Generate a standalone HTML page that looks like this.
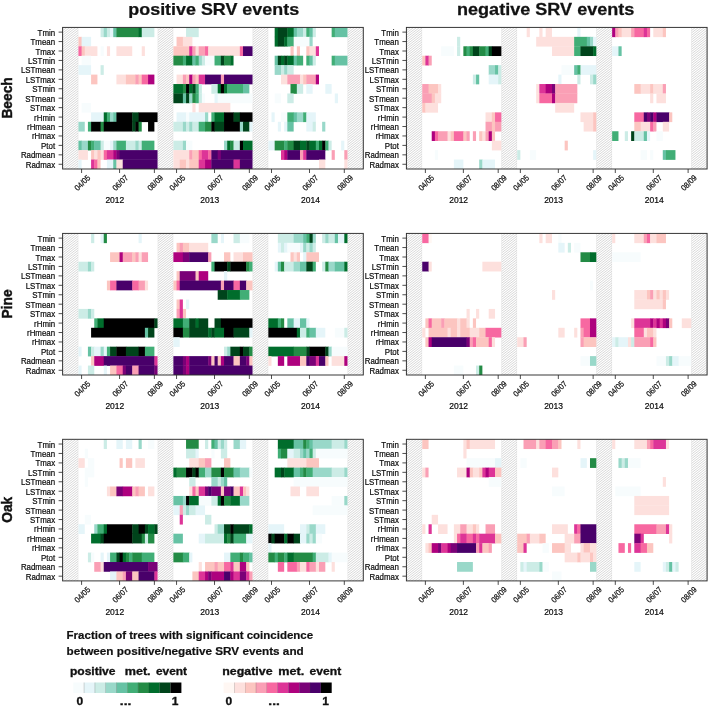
<!DOCTYPE html>
<html><head><meta charset="utf-8"><title>SRV events</title>
<style>html,body{margin:0;padding:0;background:#fff}svg{display:block}text{filter:grayscale(1)}text{font-family:"Liberation Sans",sans-serif;fill:#0a0a0a}.rl,.tl,.yl{stroke:#0a0a0a;stroke-width:0.2px}.rl{font-size:8.4px}.tl{font-size:8.2px}.yl{font-size:8.5px}.ti{font-size:16px;font-weight:bold;fill:#111;stroke:#111;stroke-width:0.25px}.sp{font-size:15px;font-weight:bold;fill:#111;stroke:#111;stroke-width:0.45px}.lg{font-size:11.4px;font-weight:bold;fill:#111;stroke:#111;stroke-width:0.2px}.lh{font-size:10px;font-weight:bold;fill:#111;stroke:#111;stroke-width:0.3px}.ln{font-size:10px;font-weight:bold;fill:#111;stroke:#111;stroke-width:0.3px}</style></head><body>
<svg width="708" height="708" viewBox="0 0 708 708">
<defs><clipPath id="hc"><rect x="0" y="0" width="15.83" height="141.6"/></clipPath><g id="h" clip-path="url(#hc)"><path d="M0 1L15.83 -11.31M0 3.33L15.83 -8.98M0 5.67L15.83 -6.64M0 8L15.83 -4.31M0 10.33L15.83 -1.98M0 12.67L15.83 0.36M0 15L15.83 2.69M0 17.33L15.83 5.02M0 19.67L15.83 7.36M0 22L15.83 9.69M0 24.33L15.83 12.02M0 26.67L15.83 14.36M0 29L15.83 16.69M0 31.33L15.83 19.02M0 33.67L15.83 21.36M0 36L15.83 23.69M0 38.33L15.83 26.02M0 40.67L15.83 28.36M0 43L15.83 30.69M0 45.33L15.83 33.02M0 47.67L15.83 35.36M0 50L15.83 37.69M0 52.33L15.83 40.02M0 54.67L15.83 42.36M0 57L15.83 44.69M0 59.33L15.83 47.02M0 61.67L15.83 49.36M0 64L15.83 51.69M0 66.33L15.83 54.02M0 68.67L15.83 56.36M0 71L15.83 58.69M0 73.33L15.83 61.02M0 75.67L15.83 63.36M0 78L15.83 65.69M0 80.33L15.83 68.02M0 82.67L15.83 70.36M0 85L15.83 72.69M0 87.33L15.83 75.02M0 89.67L15.83 77.36M0 92L15.83 79.69M0 94.33L15.83 82.02M0 96.67L15.83 84.36M0 99L15.83 86.69M0 101.33L15.83 89.02M0 103.67L15.83 91.36M0 106L15.83 93.69M0 108.33L15.83 96.02M0 110.67L15.83 98.36M0 113L15.83 100.69M0 115.33L15.83 103.02M0 117.66L15.83 105.36M0 120L15.83 107.69M0 122.33L15.83 110.02M0 124.66L15.83 112.36M0 127L15.83 114.69M0 129.33L15.83 117.02M0 131.66L15.83 119.36M0 134L15.83 121.69M0 136.33L15.83 124.02M0 138.66L15.83 126.35M0 141L15.83 128.69M0 143.33L15.83 131.02M0 145.66L15.83 133.35M0 148L15.83 135.69M0 150.33L15.83 138.02M0 152.66L15.83 140.35M0 155L15.83 142.69M0 157.33L15.83 145.02" stroke="#b8b8b8" stroke-width="0.55" fill="none"/><path d="M0.2 0V141.6M15.63 0V141.6" stroke="#d8d8d8" stroke-width="0.5" fill="none"/></g></defs>
<rect width="708" height="708" fill="#fff"/>
<text transform="translate(213.7 14.8) scale(1.12 1)" text-anchor="middle" class="ti">positive SRV events</text>
<text transform="translate(545.7 14.8) scale(1.13 1)" text-anchor="middle" class="ti">negative SRV events</text>
<text transform="translate(12.2 97.9) rotate(-90) scale(0.92 1)" text-anchor="middle" class="sp">Beech</text>
<use href="#h" x="62.6" y="27.4"/>
<use href="#h" x="157.56" y="27.4"/>
<use href="#h" x="252.52" y="27.4"/>
<use href="#h" x="347.47" y="27.4"/>
<rect x="100.58" y="27.4" width="3.57" height="9.74" fill="#ccece6"/>
<rect x="103.75" y="27.4" width="3.57" height="9.74" fill="#99d8c9"/>
<rect x="106.91" y="27.4" width="3.57" height="9.74" fill="#ccece6"/>
<rect x="110.08" y="27.4" width="3.57" height="9.74" fill="#e5f5f9"/>
<rect x="113.24" y="27.4" width="3.57" height="9.74" fill="#66c2a4"/>
<rect x="116.41" y="27.4" width="22.56" height="9.74" fill="#238b45"/>
<rect x="138.57" y="27.4" width="3.57" height="9.74" fill="#006d2c"/>
<rect x="141.73" y="27.4" width="12.66" height="9.74" fill="#ccece6"/>
<rect x="186.05" y="27.4" width="12.66" height="9.74" fill="#ccece6"/>
<rect x="274.67" y="27.4" width="3.57" height="9.74" fill="#006d2c"/>
<rect x="277.84" y="27.4" width="9.9" height="9.74" fill="#00441b"/>
<rect x="287.33" y="27.4" width="6.73" height="9.74" fill="#006d2c"/>
<rect x="293.66" y="27.4" width="3.57" height="9.74" fill="#66c2a4"/>
<rect x="296.83" y="27.4" width="6.73" height="9.74" fill="#99d8c9"/>
<rect x="303.16" y="27.4" width="3.57" height="9.74" fill="#ccece6"/>
<rect x="306.33" y="27.4" width="3.57" height="9.74" fill="#41ae76"/>
<rect x="309.49" y="27.4" width="3.57" height="9.74" fill="#66c2a4"/>
<rect x="312.66" y="27.4" width="3.17" height="9.74" fill="#ccece6"/>
<rect x="331.65" y="27.4" width="3.57" height="9.74" fill="#41ae76"/>
<rect x="334.81" y="27.4" width="12.66" height="9.74" fill="#66c2a4"/>
<rect x="78.43" y="36.84" width="3.57" height="9.74" fill="#fcc5c0"/>
<rect x="81.59" y="36.84" width="9.5" height="9.74" fill="#e5f5f9"/>
<rect x="176.55" y="36.84" width="6.73" height="9.74" fill="#fcc5c0"/>
<rect x="182.88" y="36.84" width="9.5" height="9.74" fill="#fde0dd"/>
<rect x="274.67" y="36.84" width="3.57" height="9.74" fill="#006d2c"/>
<rect x="277.84" y="36.84" width="6.73" height="9.74" fill="#00441b"/>
<rect x="284.17" y="36.84" width="3.57" height="9.74" fill="#006d2c"/>
<rect x="287.33" y="36.84" width="6.73" height="9.74" fill="#41ae76"/>
<rect x="293.66" y="36.84" width="16.23" height="9.74" fill="#f7fcfd"/>
<rect x="309.49" y="36.84" width="3.17" height="9.74" fill="#99d8c9"/>
<rect x="78.43" y="46.28" width="3.57" height="9.74" fill="#f768a1"/>
<rect x="81.59" y="46.28" width="3.57" height="9.74" fill="#fcc5c0"/>
<rect x="84.76" y="46.28" width="12.66" height="9.74" fill="#fde0dd"/>
<rect x="100.58" y="46.28" width="3.17" height="9.74" fill="#f7fcfd"/>
<rect x="106.91" y="46.28" width="3.17" height="9.74" fill="#fde0dd"/>
<rect x="116.41" y="46.28" width="15.83" height="9.74" fill="#fde0dd"/>
<rect x="141.73" y="46.28" width="3.17" height="9.74" fill="#fde0dd"/>
<rect x="173.38" y="46.28" width="16.23" height="9.74" fill="#fcc5c0"/>
<rect x="189.21" y="46.28" width="3.57" height="9.74" fill="#dd3497"/>
<rect x="192.38" y="46.28" width="3.57" height="9.74" fill="#fa9fb5"/>
<rect x="195.54" y="46.28" width="3.57" height="9.74" fill="#fde0dd"/>
<rect x="198.71" y="46.28" width="6.73" height="9.74" fill="#fa9fb5"/>
<rect x="205.04" y="46.28" width="3.57" height="9.74" fill="#f768a1"/>
<rect x="208.2" y="46.28" width="32.05" height="9.74" fill="#fde0dd"/>
<rect x="239.85" y="46.28" width="3.57" height="9.74" fill="#f768a1"/>
<rect x="243.02" y="46.28" width="9.5" height="9.74" fill="#49006a"/>
<rect x="290.5" y="46.28" width="3.17" height="9.74" fill="#fcc5c0"/>
<rect x="296.83" y="46.28" width="3.17" height="9.74" fill="#fcc5c0"/>
<rect x="306.33" y="46.28" width="3.57" height="9.74" fill="#fcc5c0"/>
<rect x="309.49" y="46.28" width="6.73" height="9.74" fill="#fde0dd"/>
<rect x="315.82" y="46.28" width="3.17" height="9.74" fill="#dd3497"/>
<rect x="81.59" y="55.72" width="9.5" height="9.74" fill="#f7fcfd"/>
<rect x="173.38" y="55.72" width="9.9" height="9.74" fill="#238b45"/>
<rect x="182.88" y="55.72" width="3.57" height="9.74" fill="#41ae76"/>
<rect x="186.05" y="55.72" width="6.73" height="9.74" fill="#006d2c"/>
<rect x="192.38" y="55.72" width="3.57" height="9.74" fill="#66c2a4"/>
<rect x="195.54" y="55.72" width="3.57" height="9.74" fill="#41ae76"/>
<rect x="198.71" y="55.72" width="3.57" height="9.74" fill="#99d8c9"/>
<rect x="201.87" y="55.72" width="3.57" height="9.74" fill="#ccece6"/>
<rect x="205.04" y="55.72" width="9.9" height="9.74" fill="#f7fcfd"/>
<rect x="214.53" y="55.72" width="6.73" height="9.74" fill="#41ae76"/>
<rect x="220.86" y="55.72" width="3.57" height="9.74" fill="#00441b"/>
<rect x="224.03" y="55.72" width="6.73" height="9.74" fill="#238b45"/>
<rect x="230.36" y="55.72" width="3.17" height="9.74" fill="#006d2c"/>
<rect x="274.67" y="55.72" width="3.57" height="9.74" fill="#66c2a4"/>
<rect x="277.84" y="55.72" width="3.57" height="9.74" fill="#00441b"/>
<rect x="281" y="55.72" width="3.57" height="9.74" fill="#006d2c"/>
<rect x="284.17" y="55.72" width="3.57" height="9.74" fill="#00441b"/>
<rect x="287.33" y="55.72" width="6.73" height="9.74" fill="#006d2c"/>
<rect x="293.66" y="55.72" width="3.57" height="9.74" fill="#66c2a4"/>
<rect x="296.83" y="55.72" width="6.33" height="9.74" fill="#41ae76"/>
<rect x="306.33" y="55.72" width="3.57" height="9.74" fill="#41ae76"/>
<rect x="309.49" y="55.72" width="3.57" height="9.74" fill="#66c2a4"/>
<rect x="312.66" y="55.72" width="3.17" height="9.74" fill="#ccece6"/>
<rect x="331.65" y="55.72" width="3.57" height="9.74" fill="#41ae76"/>
<rect x="334.81" y="55.72" width="12.66" height="9.74" fill="#66c2a4"/>
<rect x="78.43" y="65.16" width="12.66" height="9.74" fill="#e5f5f9"/>
<rect x="100.58" y="65.16" width="3.17" height="9.74" fill="#ccece6"/>
<rect x="274.67" y="65.16" width="6.73" height="9.74" fill="#99d8c9"/>
<rect x="281" y="65.16" width="3.57" height="9.74" fill="#ccece6"/>
<rect x="284.17" y="65.16" width="3.57" height="9.74" fill="#99d8c9"/>
<rect x="287.33" y="65.16" width="6.33" height="9.74" fill="#ccece6"/>
<rect x="91.09" y="74.6" width="6.33" height="9.74" fill="#fcc5c0"/>
<rect x="116.41" y="74.6" width="9.9" height="9.74" fill="#fde0dd"/>
<rect x="125.91" y="74.6" width="9.9" height="9.74" fill="#fcc5c0"/>
<rect x="135.4" y="74.6" width="3.57" height="9.74" fill="#fa9fb5"/>
<rect x="138.57" y="74.6" width="3.57" height="9.74" fill="#fcc5c0"/>
<rect x="141.73" y="74.6" width="6.73" height="9.74" fill="#f768a1"/>
<rect x="148.06" y="74.6" width="6.33" height="9.74" fill="#ae017e"/>
<rect x="176.55" y="74.6" width="6.73" height="9.74" fill="#fde0dd"/>
<rect x="182.88" y="74.6" width="3.57" height="9.74" fill="#fa9fb5"/>
<rect x="186.05" y="74.6" width="3.57" height="9.74" fill="#fcc5c0"/>
<rect x="189.21" y="74.6" width="3.57" height="9.74" fill="#ae017e"/>
<rect x="192.38" y="74.6" width="3.57" height="9.74" fill="#fa9fb5"/>
<rect x="195.54" y="74.6" width="3.57" height="9.74" fill="#fcc5c0"/>
<rect x="198.71" y="74.6" width="6.73" height="9.74" fill="#dd3497"/>
<rect x="205.04" y="74.6" width="16.23" height="9.74" fill="#49006a"/>
<rect x="220.86" y="74.6" width="3.57" height="9.74" fill="#fa9fb5"/>
<rect x="224.03" y="74.6" width="28.49" height="9.74" fill="#49006a"/>
<rect x="281" y="74.6" width="6.73" height="9.74" fill="#fde0dd"/>
<rect x="287.33" y="74.6" width="13.06" height="9.74" fill="#fa9fb5"/>
<rect x="299.99" y="74.6" width="3.57" height="9.74" fill="#fde0dd"/>
<rect x="303.16" y="74.6" width="3.57" height="9.74" fill="#fcc5c0"/>
<rect x="306.33" y="74.6" width="9.9" height="9.74" fill="#fa9fb5"/>
<rect x="315.82" y="74.6" width="3.17" height="9.74" fill="#ae017e"/>
<rect x="173.38" y="84.04" width="9.9" height="9.74" fill="#006d2c"/>
<rect x="182.88" y="84.04" width="3.57" height="9.74" fill="#238b45"/>
<rect x="186.05" y="84.04" width="3.57" height="9.74" fill="#000000"/>
<rect x="189.21" y="84.04" width="3.57" height="9.74" fill="#006d2c"/>
<rect x="192.38" y="84.04" width="3.57" height="9.74" fill="#00441b"/>
<rect x="195.54" y="84.04" width="3.57" height="9.74" fill="#41ae76"/>
<rect x="198.71" y="84.04" width="3.17" height="9.74" fill="#ccece6"/>
<rect x="211.37" y="84.04" width="6.73" height="9.74" fill="#ccece6"/>
<rect x="217.7" y="84.04" width="3.57" height="9.74" fill="#006d2c"/>
<rect x="220.86" y="84.04" width="3.57" height="9.74" fill="#000000"/>
<rect x="224.03" y="84.04" width="3.57" height="9.74" fill="#006d2c"/>
<rect x="227.19" y="84.04" width="16.23" height="9.74" fill="#41ae76"/>
<rect x="243.02" y="84.04" width="6.33" height="9.74" fill="#66c2a4"/>
<rect x="290.5" y="84.04" width="6.73" height="9.74" fill="#238b45"/>
<rect x="296.83" y="84.04" width="6.33" height="9.74" fill="#ccece6"/>
<rect x="306.33" y="84.04" width="6.33" height="9.74" fill="#e5f5f9"/>
<rect x="325.32" y="84.04" width="6.33" height="9.74" fill="#e5f5f9"/>
<rect x="173.38" y="93.48" width="9.9" height="9.74" fill="#00441b"/>
<rect x="182.88" y="93.48" width="3.57" height="9.74" fill="#66c2a4"/>
<rect x="186.05" y="93.48" width="3.57" height="9.74" fill="#00441b"/>
<rect x="189.21" y="93.48" width="3.57" height="9.74" fill="#99d8c9"/>
<rect x="192.38" y="93.48" width="3.57" height="9.74" fill="#238b45"/>
<rect x="195.54" y="93.48" width="3.57" height="9.74" fill="#41ae76"/>
<rect x="198.71" y="93.48" width="3.57" height="9.74" fill="#ccece6"/>
<rect x="201.87" y="93.48" width="3.17" height="9.74" fill="#f7fcfd"/>
<rect x="214.53" y="93.48" width="3.57" height="9.74" fill="#e5f5f9"/>
<rect x="217.7" y="93.48" width="34.82" height="9.74" fill="#f7fcfd"/>
<rect x="274.67" y="93.48" width="6.33" height="9.74" fill="#f7fcfd"/>
<rect x="287.33" y="93.48" width="6.33" height="9.74" fill="#ccece6"/>
<rect x="334.81" y="93.48" width="3.17" height="9.74" fill="#e5f5f9"/>
<rect x="81.59" y="102.92" width="9.5" height="9.74" fill="#f7fcfd"/>
<rect x="192.38" y="102.92" width="3.17" height="9.74" fill="#fde0dd"/>
<rect x="198.71" y="102.92" width="31.65" height="9.74" fill="#fde0dd"/>
<rect x="91.09" y="112.36" width="13.06" height="9.74" fill="#e5f5f9"/>
<rect x="103.75" y="112.36" width="3.57" height="9.74" fill="#006d2c"/>
<rect x="106.91" y="112.36" width="3.57" height="9.74" fill="#41ae76"/>
<rect x="110.08" y="112.36" width="3.57" height="9.74" fill="#99d8c9"/>
<rect x="113.24" y="112.36" width="3.57" height="9.74" fill="#66c2a4"/>
<rect x="116.41" y="112.36" width="16.23" height="9.74" fill="#000000"/>
<rect x="132.24" y="112.36" width="6.73" height="9.74" fill="#00441b"/>
<rect x="138.57" y="112.36" width="18.99" height="9.74" fill="#000000"/>
<rect x="176.55" y="112.36" width="9.9" height="9.74" fill="#e5f5f9"/>
<rect x="186.05" y="112.36" width="3.57" height="9.74" fill="#f7fcfd"/>
<rect x="189.21" y="112.36" width="16.23" height="9.74" fill="#e5f5f9"/>
<rect x="205.04" y="112.36" width="3.17" height="9.74" fill="#99d8c9"/>
<rect x="211.37" y="112.36" width="3.57" height="9.74" fill="#41ae76"/>
<rect x="214.53" y="112.36" width="9.9" height="9.74" fill="#006d2c"/>
<rect x="224.03" y="112.36" width="9.9" height="9.74" fill="#000000"/>
<rect x="233.52" y="112.36" width="6.73" height="9.74" fill="#00441b"/>
<rect x="239.85" y="112.36" width="12.66" height="9.74" fill="#000000"/>
<rect x="271.51" y="112.36" width="3.17" height="9.74" fill="#e5f5f9"/>
<rect x="281" y="112.36" width="6.73" height="9.74" fill="#f7fcfd"/>
<rect x="287.33" y="112.36" width="6.73" height="9.74" fill="#41ae76"/>
<rect x="293.66" y="112.36" width="3.57" height="9.74" fill="#66c2a4"/>
<rect x="296.83" y="112.36" width="6.73" height="9.74" fill="#99d8c9"/>
<rect x="303.16" y="112.36" width="3.57" height="9.74" fill="#41ae76"/>
<rect x="306.33" y="112.36" width="9.5" height="9.74" fill="#e5f5f9"/>
<rect x="78.43" y="121.8" width="6.33" height="9.74" fill="#99d8c9"/>
<rect x="87.92" y="121.8" width="3.57" height="9.74" fill="#41ae76"/>
<rect x="91.09" y="121.8" width="9.9" height="9.74" fill="#000000"/>
<rect x="100.58" y="121.8" width="3.57" height="9.74" fill="#238b45"/>
<rect x="103.75" y="121.8" width="28.89" height="9.74" fill="#000000"/>
<rect x="132.24" y="121.8" width="3.57" height="9.74" fill="#00441b"/>
<rect x="135.4" y="121.8" width="3.57" height="9.74" fill="#000000"/>
<rect x="138.57" y="121.8" width="3.17" height="9.74" fill="#238b45"/>
<rect x="148.06" y="121.8" width="6.33" height="9.74" fill="#000000"/>
<rect x="173.38" y="121.8" width="9.9" height="9.74" fill="#ccece6"/>
<rect x="182.88" y="121.8" width="3.57" height="9.74" fill="#99d8c9"/>
<rect x="186.05" y="121.8" width="3.57" height="9.74" fill="#ccece6"/>
<rect x="189.21" y="121.8" width="3.57" height="9.74" fill="#99d8c9"/>
<rect x="192.38" y="121.8" width="6.73" height="9.74" fill="#ccece6"/>
<rect x="198.71" y="121.8" width="6.73" height="9.74" fill="#41ae76"/>
<rect x="205.04" y="121.8" width="6.73" height="9.74" fill="#238b45"/>
<rect x="211.37" y="121.8" width="3.57" height="9.74" fill="#000000"/>
<rect x="214.53" y="121.8" width="9.9" height="9.74" fill="#00441b"/>
<rect x="224.03" y="121.8" width="16.23" height="9.74" fill="#000000"/>
<rect x="239.85" y="121.8" width="3.57" height="9.74" fill="#99d8c9"/>
<rect x="243.02" y="121.8" width="6.73" height="9.74" fill="#00441b"/>
<rect x="249.35" y="121.8" width="3.17" height="9.74" fill="#e5f5f9"/>
<rect x="277.84" y="121.8" width="3.17" height="9.74" fill="#e5f5f9"/>
<rect x="284.17" y="121.8" width="3.57" height="9.74" fill="#e5f5f9"/>
<rect x="287.33" y="121.8" width="6.33" height="9.74" fill="#66c2a4"/>
<rect x="306.33" y="121.8" width="6.73" height="9.74" fill="#e5f5f9"/>
<rect x="312.66" y="121.8" width="3.17" height="9.74" fill="#ccece6"/>
<rect x="322.15" y="121.8" width="3.17" height="9.74" fill="#99d8c9"/>
<rect x="78.43" y="140.68" width="3.57" height="9.74" fill="#66c2a4"/>
<rect x="81.59" y="140.68" width="6.73" height="9.74" fill="#99d8c9"/>
<rect x="87.92" y="140.68" width="3.57" height="9.74" fill="#238b45"/>
<rect x="91.09" y="140.68" width="3.57" height="9.74" fill="#41ae76"/>
<rect x="94.25" y="140.68" width="6.73" height="9.74" fill="#66c2a4"/>
<rect x="100.58" y="140.68" width="3.57" height="9.74" fill="#ccece6"/>
<rect x="103.75" y="140.68" width="6.73" height="9.74" fill="#f7fcfd"/>
<rect x="110.08" y="140.68" width="3.57" height="9.74" fill="#e5f5f9"/>
<rect x="113.24" y="140.68" width="3.57" height="9.74" fill="#99d8c9"/>
<rect x="116.41" y="140.68" width="9.9" height="9.74" fill="#41ae76"/>
<rect x="125.91" y="140.68" width="9.9" height="9.74" fill="#ccece6"/>
<rect x="135.4" y="140.68" width="3.57" height="9.74" fill="#99d8c9"/>
<rect x="138.57" y="140.68" width="3.57" height="9.74" fill="#ccece6"/>
<rect x="141.73" y="140.68" width="12.66" height="9.74" fill="#41ae76"/>
<rect x="173.38" y="140.68" width="9.9" height="9.74" fill="#ccece6"/>
<rect x="182.88" y="140.68" width="3.57" height="9.74" fill="#99d8c9"/>
<rect x="186.05" y="140.68" width="6.33" height="9.74" fill="#f7fcfd"/>
<rect x="224.03" y="140.68" width="3.57" height="9.74" fill="#99d8c9"/>
<rect x="227.19" y="140.68" width="3.57" height="9.74" fill="#006d2c"/>
<rect x="230.36" y="140.68" width="3.57" height="9.74" fill="#238b45"/>
<rect x="233.52" y="140.68" width="6.73" height="9.74" fill="#ccece6"/>
<rect x="239.85" y="140.68" width="3.57" height="9.74" fill="#000000"/>
<rect x="243.02" y="140.68" width="9.5" height="9.74" fill="#006d2c"/>
<rect x="268.34" y="140.68" width="6.73" height="9.74" fill="#e5f5f9"/>
<rect x="274.67" y="140.68" width="9.9" height="9.74" fill="#238b45"/>
<rect x="284.17" y="140.68" width="3.57" height="9.74" fill="#41ae76"/>
<rect x="287.33" y="140.68" width="6.73" height="9.74" fill="#238b45"/>
<rect x="293.66" y="140.68" width="6.73" height="9.74" fill="#00441b"/>
<rect x="299.99" y="140.68" width="6.73" height="9.74" fill="#006d2c"/>
<rect x="306.33" y="140.68" width="3.57" height="9.74" fill="#00441b"/>
<rect x="309.49" y="140.68" width="6.73" height="9.74" fill="#006d2c"/>
<rect x="315.82" y="140.68" width="3.57" height="9.74" fill="#41ae76"/>
<rect x="318.99" y="140.68" width="3.57" height="9.74" fill="#006d2c"/>
<rect x="322.15" y="140.68" width="3.57" height="9.74" fill="#000000"/>
<rect x="325.32" y="140.68" width="3.57" height="9.74" fill="#41ae76"/>
<rect x="328.48" y="140.68" width="3.17" height="9.74" fill="#ccece6"/>
<rect x="341.14" y="140.68" width="3.17" height="9.74" fill="#e5f5f9"/>
<rect x="78.43" y="150.12" width="9.5" height="9.74" fill="#fde0dd"/>
<rect x="91.09" y="150.12" width="3.57" height="9.74" fill="#fcc5c0"/>
<rect x="94.25" y="150.12" width="3.57" height="9.74" fill="#fde0dd"/>
<rect x="97.42" y="150.12" width="3.57" height="9.74" fill="#fcc5c0"/>
<rect x="100.58" y="150.12" width="3.57" height="9.74" fill="#fde0dd"/>
<rect x="103.75" y="150.12" width="3.57" height="9.74" fill="#f768a1"/>
<rect x="106.91" y="150.12" width="6.73" height="9.74" fill="#dd3497"/>
<rect x="113.24" y="150.12" width="3.57" height="9.74" fill="#ae017e"/>
<rect x="116.41" y="150.12" width="3.57" height="9.74" fill="#7a0177"/>
<rect x="119.57" y="150.12" width="37.98" height="9.74" fill="#49006a"/>
<rect x="173.38" y="150.12" width="16.23" height="9.74" fill="#fde0dd"/>
<rect x="189.21" y="150.12" width="3.57" height="9.74" fill="#fa9fb5"/>
<rect x="192.38" y="150.12" width="6.73" height="9.74" fill="#fcc5c0"/>
<rect x="198.71" y="150.12" width="3.57" height="9.74" fill="#f768a1"/>
<rect x="201.87" y="150.12" width="6.73" height="9.74" fill="#dd3497"/>
<rect x="208.2" y="150.12" width="3.57" height="9.74" fill="#f768a1"/>
<rect x="211.37" y="150.12" width="6.73" height="9.74" fill="#49006a"/>
<rect x="217.7" y="150.12" width="3.57" height="9.74" fill="#7a0177"/>
<rect x="220.86" y="150.12" width="31.65" height="9.74" fill="#49006a"/>
<rect x="281" y="150.12" width="3.57" height="9.74" fill="#dd3497"/>
<rect x="284.17" y="150.12" width="3.57" height="9.74" fill="#ae017e"/>
<rect x="287.33" y="150.12" width="13.06" height="9.74" fill="#49006a"/>
<rect x="299.99" y="150.12" width="3.57" height="9.74" fill="#fa9fb5"/>
<rect x="303.16" y="150.12" width="3.57" height="9.74" fill="#dd3497"/>
<rect x="306.33" y="150.12" width="18.99" height="9.74" fill="#49006a"/>
<rect x="331.65" y="150.12" width="3.17" height="9.74" fill="#fa9fb5"/>
<rect x="344.31" y="150.12" width="3.17" height="9.74" fill="#fa9fb5"/>
<rect x="78.43" y="159.56" width="3.17" height="9.44" fill="#e5f5f9"/>
<rect x="91.09" y="159.56" width="3.57" height="9.44" fill="#dd3497"/>
<rect x="94.25" y="159.56" width="3.57" height="9.44" fill="#f768a1"/>
<rect x="97.42" y="159.56" width="3.17" height="9.44" fill="#fcc5c0"/>
<rect x="106.91" y="159.56" width="6.73" height="9.44" fill="#e5f5f9"/>
<rect x="113.24" y="159.56" width="3.57" height="9.44" fill="#66c2a4"/>
<rect x="116.41" y="159.56" width="6.73" height="9.44" fill="#fde0dd"/>
<rect x="122.74" y="159.56" width="34.82" height="9.44" fill="#49006a"/>
<rect x="173.38" y="159.56" width="6.73" height="9.44" fill="#fde0dd"/>
<rect x="179.71" y="159.56" width="6.73" height="9.44" fill="#fcc5c0"/>
<rect x="186.05" y="159.56" width="3.57" height="9.44" fill="#fde0dd"/>
<rect x="189.21" y="159.56" width="9.9" height="9.44" fill="#fcc5c0"/>
<rect x="198.71" y="159.56" width="6.73" height="9.44" fill="#dd3497"/>
<rect x="205.04" y="159.56" width="6.73" height="9.44" fill="#ae017e"/>
<rect x="211.37" y="159.56" width="22.56" height="9.44" fill="#49006a"/>
<rect x="233.52" y="159.56" width="6.73" height="9.44" fill="#dd3497"/>
<rect x="239.85" y="159.56" width="12.66" height="9.44" fill="#49006a"/>
<rect x="318.99" y="159.56" width="6.33" height="9.44" fill="#fde0dd"/>
<rect x="344.31" y="159.56" width="3.17" height="9.44" fill="#fde0dd"/>
<rect x="62.6" y="27.4" width="300.7" height="141.6" fill="none" stroke="#2e2e2e" stroke-width="0.95"/>
<path d="M58.6 32.12H62.6" stroke="#222" stroke-width="0.8"/>
<text transform="translate(55.1 35.62) scale(0.94 1)" text-anchor="end" class="rl">Tmin</text>
<path d="M58.6 41.56H62.6" stroke="#222" stroke-width="0.8"/>
<text transform="translate(55.1 45.06) scale(0.94 1)" text-anchor="end" class="rl">Tmean</text>
<path d="M58.6 51H62.6" stroke="#222" stroke-width="0.8"/>
<text transform="translate(55.1 54.5) scale(0.94 1)" text-anchor="end" class="rl">Tmax</text>
<path d="M58.6 60.44H62.6" stroke="#222" stroke-width="0.8"/>
<text transform="translate(55.1 63.94) scale(0.94 1)" text-anchor="end" class="rl">LSTmin</text>
<path d="M58.6 69.88H62.6" stroke="#222" stroke-width="0.8"/>
<text transform="translate(55.1 73.38) scale(0.94 1)" text-anchor="end" class="rl">LSTmean</text>
<path d="M58.6 79.32H62.6" stroke="#222" stroke-width="0.8"/>
<text transform="translate(55.1 82.82) scale(0.94 1)" text-anchor="end" class="rl">LSTmax</text>
<path d="M58.6 88.76H62.6" stroke="#222" stroke-width="0.8"/>
<text transform="translate(55.1 92.26) scale(0.94 1)" text-anchor="end" class="rl">STmin</text>
<path d="M58.6 98.2H62.6" stroke="#222" stroke-width="0.8"/>
<text transform="translate(55.1 101.7) scale(0.94 1)" text-anchor="end" class="rl">STmean</text>
<path d="M58.6 107.64H62.6" stroke="#222" stroke-width="0.8"/>
<text transform="translate(55.1 111.14) scale(0.94 1)" text-anchor="end" class="rl">STmax</text>
<path d="M58.6 117.08H62.6" stroke="#222" stroke-width="0.8"/>
<text transform="translate(55.1 120.58) scale(0.94 1)" text-anchor="end" class="rl">rHmin</text>
<path d="M58.6 126.52H62.6" stroke="#222" stroke-width="0.8"/>
<text transform="translate(55.1 130.02) scale(0.94 1)" text-anchor="end" class="rl">rHmean</text>
<path d="M58.6 135.96H62.6" stroke="#222" stroke-width="0.8"/>
<text transform="translate(55.1 139.46) scale(0.94 1)" text-anchor="end" class="rl">rHmax</text>
<path d="M58.6 145.4H62.6" stroke="#222" stroke-width="0.8"/>
<text transform="translate(55.1 148.9) scale(0.94 1)" text-anchor="end" class="rl">Ptot</text>
<path d="M58.6 154.84H62.6" stroke="#222" stroke-width="0.8"/>
<text transform="translate(55.1 158.34) scale(0.94 1)" text-anchor="end" class="rl">Radmean</text>
<path d="M58.6 164.28H62.6" stroke="#222" stroke-width="0.8"/>
<text transform="translate(55.1 167.78) scale(0.94 1)" text-anchor="end" class="rl">Radmax</text>
<path d="M81.59 169V173" stroke="#222" stroke-width="0.8"/>
<text transform="translate(90.89 178.3) rotate(-45) scale(0.9 1)" text-anchor="end" class="tl">04/05</text>
<path d="M119.57 169V173" stroke="#222" stroke-width="0.8"/>
<text transform="translate(128.87 178.3) rotate(-45) scale(0.9 1)" text-anchor="end" class="tl">06/07</text>
<path d="M154.39 169V173" stroke="#222" stroke-width="0.8"/>
<text transform="translate(163.69 178.3) rotate(-45) scale(0.9 1)" text-anchor="end" class="tl">08/09</text>
<text transform="translate(114.83 202.7)" text-anchor="middle" class="yl">2012</text>
<path d="M176.55 169V173" stroke="#222" stroke-width="0.8"/>
<text transform="translate(185.85 178.3) rotate(-45) scale(0.9 1)" text-anchor="end" class="tl">04/05</text>
<path d="M214.53 169V173" stroke="#222" stroke-width="0.8"/>
<text transform="translate(223.83 178.3) rotate(-45) scale(0.9 1)" text-anchor="end" class="tl">06/07</text>
<path d="M249.35 169V173" stroke="#222" stroke-width="0.8"/>
<text transform="translate(258.65 178.3) rotate(-45) scale(0.9 1)" text-anchor="end" class="tl">08/09</text>
<text transform="translate(209.78 202.7)" text-anchor="middle" class="yl">2013</text>
<path d="M271.51 169V173" stroke="#222" stroke-width="0.8"/>
<text transform="translate(280.81 178.3) rotate(-45) scale(0.9 1)" text-anchor="end" class="tl">04/05</text>
<path d="M309.49 169V173" stroke="#222" stroke-width="0.8"/>
<text transform="translate(318.79 178.3) rotate(-45) scale(0.9 1)" text-anchor="end" class="tl">06/07</text>
<path d="M344.31 169V173" stroke="#222" stroke-width="0.8"/>
<text transform="translate(353.61 178.3) rotate(-45) scale(0.9 1)" text-anchor="end" class="tl">08/09</text>
<text transform="translate(310.44 202.7)" text-anchor="middle" class="yl">2014</text>
<use href="#h" x="406.4" y="27.4"/>
<use href="#h" x="501.36" y="27.4"/>
<use href="#h" x="596.32" y="27.4"/>
<use href="#h" x="691.27" y="27.4"/>
<rect x="526.68" y="27.4" width="3.17" height="9.74" fill="#fde0dd"/>
<rect x="539.34" y="27.4" width="3.17" height="9.74" fill="#fde0dd"/>
<rect x="545.67" y="27.4" width="6.33" height="9.74" fill="#fde0dd"/>
<rect x="577.32" y="27.4" width="3.17" height="9.74" fill="#e5f5f9"/>
<rect x="612.14" y="27.4" width="3.57" height="9.74" fill="#ae017e"/>
<rect x="615.31" y="27.4" width="3.57" height="9.74" fill="#fa9fb5"/>
<rect x="618.47" y="27.4" width="3.57" height="9.74" fill="#fcc5c0"/>
<rect x="621.64" y="27.4" width="9.9" height="9.74" fill="#fde0dd"/>
<rect x="631.13" y="27.4" width="3.57" height="9.74" fill="#fa9fb5"/>
<rect x="634.3" y="27.4" width="9.9" height="9.74" fill="#f768a1"/>
<rect x="643.79" y="27.4" width="3.57" height="9.74" fill="#dd3497"/>
<rect x="646.96" y="27.4" width="3.17" height="9.74" fill="#f768a1"/>
<rect x="653.29" y="27.4" width="9.9" height="9.74" fill="#fde0dd"/>
<rect x="662.79" y="27.4" width="3.17" height="9.74" fill="#fcc5c0"/>
<rect x="457.04" y="36.84" width="3.17" height="9.74" fill="#ccece6"/>
<rect x="536.18" y="36.84" width="38.38" height="9.74" fill="#fde0dd"/>
<rect x="574.16" y="36.84" width="13.06" height="9.74" fill="#41ae76"/>
<rect x="586.82" y="36.84" width="3.57" height="9.74" fill="#66c2a4"/>
<rect x="589.99" y="36.84" width="3.57" height="9.74" fill="#99d8c9"/>
<rect x="593.15" y="36.84" width="3.17" height="9.74" fill="#e5f5f9"/>
<rect x="441.22" y="46.28" width="12.66" height="9.74" fill="#f7fcfd"/>
<rect x="457.04" y="46.28" width="3.17" height="9.74" fill="#ccece6"/>
<rect x="463.37" y="46.28" width="3.57" height="9.74" fill="#238b45"/>
<rect x="466.54" y="46.28" width="3.57" height="9.74" fill="#41ae76"/>
<rect x="469.71" y="46.28" width="3.57" height="9.74" fill="#238b45"/>
<rect x="472.87" y="46.28" width="6.73" height="9.74" fill="#00441b"/>
<rect x="479.2" y="46.28" width="6.73" height="9.74" fill="#238b45"/>
<rect x="485.53" y="46.28" width="3.57" height="9.74" fill="#41ae76"/>
<rect x="488.7" y="46.28" width="3.57" height="9.74" fill="#00441b"/>
<rect x="491.86" y="46.28" width="9.5" height="9.74" fill="#000000"/>
<rect x="552" y="46.28" width="22.56" height="9.74" fill="#fde0dd"/>
<rect x="574.16" y="46.28" width="6.73" height="9.74" fill="#41ae76"/>
<rect x="580.49" y="46.28" width="13.06" height="9.74" fill="#00441b"/>
<rect x="593.15" y="46.28" width="3.17" height="9.74" fill="#006d2c"/>
<rect x="612.14" y="46.28" width="6.73" height="9.74" fill="#e5f5f9"/>
<rect x="618.47" y="46.28" width="3.17" height="9.74" fill="#66c2a4"/>
<rect x="422.23" y="55.72" width="3.57" height="9.74" fill="#fcc5c0"/>
<rect x="425.39" y="55.72" width="3.57" height="9.74" fill="#dd3497"/>
<rect x="428.56" y="55.72" width="3.17" height="9.74" fill="#fa9fb5"/>
<rect x="488.7" y="65.16" width="6.73" height="9.74" fill="#99d8c9"/>
<rect x="495.03" y="65.16" width="3.57" height="9.74" fill="#66c2a4"/>
<rect x="498.19" y="65.16" width="3.17" height="9.74" fill="#ccece6"/>
<rect x="561.5" y="65.16" width="13.06" height="9.74" fill="#f7fcfd"/>
<rect x="574.16" y="65.16" width="3.57" height="9.74" fill="#66c2a4"/>
<rect x="577.32" y="65.16" width="3.57" height="9.74" fill="#41ae76"/>
<rect x="580.49" y="65.16" width="15.83" height="9.74" fill="#e5f5f9"/>
<rect x="472.87" y="74.6" width="3.57" height="9.74" fill="#ccece6"/>
<rect x="476.04" y="74.6" width="3.17" height="9.74" fill="#66c2a4"/>
<rect x="488.7" y="74.6" width="9.9" height="9.74" fill="#e5f5f9"/>
<rect x="498.19" y="74.6" width="3.17" height="9.74" fill="#ccece6"/>
<rect x="558.33" y="74.6" width="3.17" height="9.74" fill="#e5f5f9"/>
<rect x="577.32" y="74.6" width="3.17" height="9.74" fill="#ccece6"/>
<rect x="589.99" y="74.6" width="3.57" height="9.74" fill="#ccece6"/>
<rect x="593.15" y="74.6" width="3.17" height="9.74" fill="#99d8c9"/>
<rect x="422.23" y="84.04" width="6.73" height="9.74" fill="#fa9fb5"/>
<rect x="428.56" y="84.04" width="9.9" height="9.74" fill="#fcc5c0"/>
<rect x="438.05" y="84.04" width="3.17" height="9.74" fill="#fde0dd"/>
<rect x="536.18" y="84.04" width="3.57" height="9.74" fill="#fde0dd"/>
<rect x="539.34" y="84.04" width="6.73" height="9.74" fill="#dd3497"/>
<rect x="545.67" y="84.04" width="6.73" height="9.74" fill="#ae017e"/>
<rect x="552" y="84.04" width="3.57" height="9.74" fill="#7a0177"/>
<rect x="555.17" y="84.04" width="22.16" height="9.74" fill="#fa9fb5"/>
<rect x="634.3" y="84.04" width="6.73" height="9.74" fill="#fcc5c0"/>
<rect x="640.63" y="84.04" width="9.9" height="9.74" fill="#fde0dd"/>
<rect x="650.13" y="84.04" width="3.57" height="9.74" fill="#fcc5c0"/>
<rect x="653.29" y="84.04" width="9.9" height="9.74" fill="#fde0dd"/>
<rect x="662.79" y="84.04" width="3.17" height="9.74" fill="#fa9fb5"/>
<rect x="422.23" y="93.48" width="9.9" height="9.74" fill="#fa9fb5"/>
<rect x="431.72" y="93.48" width="3.57" height="9.74" fill="#fcc5c0"/>
<rect x="434.89" y="93.48" width="6.33" height="9.74" fill="#fde0dd"/>
<rect x="536.18" y="93.48" width="3.57" height="9.74" fill="#fde0dd"/>
<rect x="539.34" y="93.48" width="13.06" height="9.74" fill="#f768a1"/>
<rect x="552" y="93.48" width="3.57" height="9.74" fill="#ae017e"/>
<rect x="555.17" y="93.48" width="22.16" height="9.74" fill="#fa9fb5"/>
<rect x="650.13" y="93.48" width="3.17" height="9.74" fill="#fde0dd"/>
<rect x="656.46" y="93.48" width="9.5" height="9.74" fill="#fde0dd"/>
<rect x="422.23" y="102.92" width="3.57" height="9.74" fill="#fcc5c0"/>
<rect x="425.39" y="102.92" width="12.66" height="9.74" fill="#fde0dd"/>
<rect x="555.17" y="102.92" width="18.99" height="9.74" fill="#fde0dd"/>
<rect x="485.53" y="112.36" width="6.73" height="9.74" fill="#fde0dd"/>
<rect x="491.86" y="112.36" width="3.57" height="9.74" fill="#fcc5c0"/>
<rect x="495.03" y="112.36" width="6.33" height="9.74" fill="#f768a1"/>
<rect x="580.49" y="112.36" width="13.06" height="9.74" fill="#fde0dd"/>
<rect x="593.15" y="112.36" width="3.17" height="9.74" fill="#fcc5c0"/>
<rect x="634.3" y="112.36" width="9.9" height="9.74" fill="#f768a1"/>
<rect x="643.79" y="112.36" width="3.57" height="9.74" fill="#49006a"/>
<rect x="646.96" y="112.36" width="3.57" height="9.74" fill="#7a0177"/>
<rect x="650.13" y="112.36" width="3.57" height="9.74" fill="#49006a"/>
<rect x="653.29" y="112.36" width="3.57" height="9.74" fill="#ae017e"/>
<rect x="656.46" y="112.36" width="13.06" height="9.74" fill="#49006a"/>
<rect x="669.12" y="112.36" width="3.17" height="9.74" fill="#fcc5c0"/>
<rect x="485.53" y="121.8" width="6.73" height="9.74" fill="#fa9fb5"/>
<rect x="491.86" y="121.8" width="3.57" height="9.74" fill="#fcc5c0"/>
<rect x="495.03" y="121.8" width="6.33" height="9.74" fill="#fa9fb5"/>
<rect x="583.65" y="121.8" width="9.9" height="9.74" fill="#fde0dd"/>
<rect x="593.15" y="121.8" width="3.17" height="9.74" fill="#fcc5c0"/>
<rect x="634.3" y="121.8" width="6.73" height="9.74" fill="#fcc5c0"/>
<rect x="640.63" y="121.8" width="9.9" height="9.74" fill="#fde0dd"/>
<rect x="650.13" y="121.8" width="3.57" height="9.74" fill="#f768a1"/>
<rect x="653.29" y="121.8" width="3.17" height="9.74" fill="#fa9fb5"/>
<rect x="662.79" y="121.8" width="6.33" height="9.74" fill="#fde0dd"/>
<rect x="431.72" y="131.24" width="3.57" height="9.74" fill="#ae017e"/>
<rect x="434.89" y="131.24" width="3.57" height="9.74" fill="#f768a1"/>
<rect x="438.05" y="131.24" width="9.9" height="9.74" fill="#fa9fb5"/>
<rect x="447.55" y="131.24" width="3.57" height="9.74" fill="#fde0dd"/>
<rect x="450.71" y="131.24" width="3.57" height="9.74" fill="#fcc5c0"/>
<rect x="453.88" y="131.24" width="9.9" height="9.74" fill="#f768a1"/>
<rect x="463.37" y="131.24" width="3.57" height="9.74" fill="#fcc5c0"/>
<rect x="466.54" y="131.24" width="3.17" height="9.74" fill="#fa9fb5"/>
<rect x="472.87" y="131.24" width="3.17" height="9.74" fill="#fa9fb5"/>
<rect x="479.2" y="131.24" width="3.57" height="9.74" fill="#fcc5c0"/>
<rect x="482.37" y="131.24" width="3.57" height="9.74" fill="#fde0dd"/>
<rect x="485.53" y="131.24" width="3.57" height="9.74" fill="#fa9fb5"/>
<rect x="488.7" y="131.24" width="3.57" height="9.74" fill="#ae017e"/>
<rect x="491.86" y="131.24" width="3.17" height="9.74" fill="#fcc5c0"/>
<rect x="612.14" y="131.24" width="6.33" height="9.74" fill="#41ae76"/>
<rect x="624.8" y="131.24" width="3.17" height="9.74" fill="#ccece6"/>
<rect x="631.13" y="131.24" width="3.57" height="9.74" fill="#00441b"/>
<rect x="634.3" y="131.24" width="9.9" height="9.74" fill="#ccece6"/>
<rect x="643.79" y="131.24" width="3.57" height="9.74" fill="#66c2a4"/>
<rect x="646.96" y="131.24" width="3.17" height="9.74" fill="#e5f5f9"/>
<rect x="656.46" y="131.24" width="6.33" height="9.74" fill="#f7fcfd"/>
<rect x="491.86" y="140.68" width="9.5" height="9.74" fill="#fde0dd"/>
<rect x="564.66" y="140.68" width="3.17" height="9.74" fill="#fcc5c0"/>
<rect x="434.89" y="150.12" width="3.17" height="9.74" fill="#f7fcfd"/>
<rect x="517.18" y="150.12" width="3.17" height="9.74" fill="#ccece6"/>
<rect x="529.85" y="150.12" width="6.33" height="9.74" fill="#f7fcfd"/>
<rect x="593.15" y="150.12" width="3.17" height="9.74" fill="#e5f5f9"/>
<rect x="640.63" y="150.12" width="6.33" height="9.74" fill="#f7fcfd"/>
<rect x="650.13" y="150.12" width="3.17" height="9.74" fill="#f7fcfd"/>
<rect x="662.79" y="150.12" width="3.57" height="9.74" fill="#66c2a4"/>
<rect x="665.95" y="150.12" width="9.5" height="9.74" fill="#41ae76"/>
<rect x="453.88" y="159.56" width="9.5" height="9.44" fill="#e5f5f9"/>
<rect x="479.2" y="159.56" width="3.57" height="9.44" fill="#99d8c9"/>
<rect x="482.37" y="159.56" width="12.66" height="9.44" fill="#e5f5f9"/>
<rect x="406.4" y="27.4" width="300.7" height="141.6" fill="none" stroke="#2e2e2e" stroke-width="0.95"/>
<path d="M402.4 32.12H406.4" stroke="#222" stroke-width="0.8"/>
<text transform="translate(398.9 35.62) scale(0.94 1)" text-anchor="end" class="rl">Tmin</text>
<path d="M402.4 41.56H406.4" stroke="#222" stroke-width="0.8"/>
<text transform="translate(398.9 45.06) scale(0.94 1)" text-anchor="end" class="rl">Tmean</text>
<path d="M402.4 51H406.4" stroke="#222" stroke-width="0.8"/>
<text transform="translate(398.9 54.5) scale(0.94 1)" text-anchor="end" class="rl">Tmax</text>
<path d="M402.4 60.44H406.4" stroke="#222" stroke-width="0.8"/>
<text transform="translate(398.9 63.94) scale(0.94 1)" text-anchor="end" class="rl">LSTmin</text>
<path d="M402.4 69.88H406.4" stroke="#222" stroke-width="0.8"/>
<text transform="translate(398.9 73.38) scale(0.94 1)" text-anchor="end" class="rl">LSTmean</text>
<path d="M402.4 79.32H406.4" stroke="#222" stroke-width="0.8"/>
<text transform="translate(398.9 82.82) scale(0.94 1)" text-anchor="end" class="rl">LSTmax</text>
<path d="M402.4 88.76H406.4" stroke="#222" stroke-width="0.8"/>
<text transform="translate(398.9 92.26) scale(0.94 1)" text-anchor="end" class="rl">STmin</text>
<path d="M402.4 98.2H406.4" stroke="#222" stroke-width="0.8"/>
<text transform="translate(398.9 101.7) scale(0.94 1)" text-anchor="end" class="rl">STmean</text>
<path d="M402.4 107.64H406.4" stroke="#222" stroke-width="0.8"/>
<text transform="translate(398.9 111.14) scale(0.94 1)" text-anchor="end" class="rl">STmax</text>
<path d="M402.4 117.08H406.4" stroke="#222" stroke-width="0.8"/>
<text transform="translate(398.9 120.58) scale(0.94 1)" text-anchor="end" class="rl">rHmin</text>
<path d="M402.4 126.52H406.4" stroke="#222" stroke-width="0.8"/>
<text transform="translate(398.9 130.02) scale(0.94 1)" text-anchor="end" class="rl">rHmean</text>
<path d="M402.4 135.96H406.4" stroke="#222" stroke-width="0.8"/>
<text transform="translate(398.9 139.46) scale(0.94 1)" text-anchor="end" class="rl">rHmax</text>
<path d="M402.4 145.4H406.4" stroke="#222" stroke-width="0.8"/>
<text transform="translate(398.9 148.9) scale(0.94 1)" text-anchor="end" class="rl">Ptot</text>
<path d="M402.4 154.84H406.4" stroke="#222" stroke-width="0.8"/>
<text transform="translate(398.9 158.34) scale(0.94 1)" text-anchor="end" class="rl">Radmean</text>
<path d="M402.4 164.28H406.4" stroke="#222" stroke-width="0.8"/>
<text transform="translate(398.9 167.78) scale(0.94 1)" text-anchor="end" class="rl">Radmax</text>
<path d="M425.39 169V173" stroke="#222" stroke-width="0.8"/>
<text transform="translate(434.69 178.3) rotate(-45) scale(0.9 1)" text-anchor="end" class="tl">04/05</text>
<path d="M463.37 169V173" stroke="#222" stroke-width="0.8"/>
<text transform="translate(472.67 178.3) rotate(-45) scale(0.9 1)" text-anchor="end" class="tl">06/07</text>
<path d="M498.19 169V173" stroke="#222" stroke-width="0.8"/>
<text transform="translate(507.49 178.3) rotate(-45) scale(0.9 1)" text-anchor="end" class="tl">08/09</text>
<text transform="translate(458.63 202.7)" text-anchor="middle" class="yl">2012</text>
<path d="M520.35 169V173" stroke="#222" stroke-width="0.8"/>
<text transform="translate(529.65 178.3) rotate(-45) scale(0.9 1)" text-anchor="end" class="tl">04/05</text>
<path d="M558.33 169V173" stroke="#222" stroke-width="0.8"/>
<text transform="translate(567.63 178.3) rotate(-45) scale(0.9 1)" text-anchor="end" class="tl">06/07</text>
<path d="M593.15 169V173" stroke="#222" stroke-width="0.8"/>
<text transform="translate(602.45 178.3) rotate(-45) scale(0.9 1)" text-anchor="end" class="tl">08/09</text>
<text transform="translate(553.58 202.7)" text-anchor="middle" class="yl">2013</text>
<path d="M615.31 169V173" stroke="#222" stroke-width="0.8"/>
<text transform="translate(624.61 178.3) rotate(-45) scale(0.9 1)" text-anchor="end" class="tl">04/05</text>
<path d="M653.29 169V173" stroke="#222" stroke-width="0.8"/>
<text transform="translate(662.59 178.3) rotate(-45) scale(0.9 1)" text-anchor="end" class="tl">06/07</text>
<path d="M688.11 169V173" stroke="#222" stroke-width="0.8"/>
<text transform="translate(697.41 178.3) rotate(-45) scale(0.9 1)" text-anchor="end" class="tl">08/09</text>
<text transform="translate(654.24 202.7)" text-anchor="middle" class="yl">2014</text>
<text transform="translate(12.2 303.9) rotate(-90) scale(0.92 1)" text-anchor="middle" class="sp">Pine</text>
<use href="#h" x="62.6" y="233.4"/>
<use href="#h" x="157.56" y="233.4"/>
<use href="#h" x="252.52" y="233.4"/>
<use href="#h" x="347.47" y="233.4"/>
<rect x="91.09" y="233.4" width="3.17" height="9.74" fill="#ccece6"/>
<rect x="100.58" y="233.4" width="3.57" height="9.74" fill="#e5f5f9"/>
<rect x="103.75" y="233.4" width="3.17" height="9.74" fill="#238b45"/>
<rect x="138.57" y="233.4" width="3.17" height="9.74" fill="#e5f5f9"/>
<rect x="211.37" y="233.4" width="6.33" height="9.74" fill="#99d8c9"/>
<rect x="220.86" y="233.4" width="3.17" height="9.74" fill="#e5f5f9"/>
<rect x="233.52" y="233.4" width="6.73" height="9.74" fill="#ccece6"/>
<rect x="239.85" y="233.4" width="9.5" height="9.74" fill="#f7fcfd"/>
<rect x="277.84" y="233.4" width="16.23" height="9.74" fill="#ccece6"/>
<rect x="293.66" y="233.4" width="9.9" height="9.74" fill="#99d8c9"/>
<rect x="303.16" y="233.4" width="3.57" height="9.74" fill="#66c2a4"/>
<rect x="306.33" y="233.4" width="3.57" height="9.74" fill="#41ae76"/>
<rect x="309.49" y="233.4" width="3.57" height="9.74" fill="#00441b"/>
<rect x="312.66" y="233.4" width="3.17" height="9.74" fill="#99d8c9"/>
<rect x="322.15" y="233.4" width="3.57" height="9.74" fill="#ccece6"/>
<rect x="325.32" y="233.4" width="3.57" height="9.74" fill="#99d8c9"/>
<rect x="328.48" y="233.4" width="6.73" height="9.74" fill="#ccece6"/>
<rect x="334.81" y="233.4" width="3.57" height="9.74" fill="#66c2a4"/>
<rect x="337.98" y="233.4" width="6.73" height="9.74" fill="#e5f5f9"/>
<rect x="344.31" y="233.4" width="3.17" height="9.74" fill="#006d2c"/>
<rect x="176.55" y="242.84" width="3.57" height="9.74" fill="#fcc5c0"/>
<rect x="179.71" y="242.84" width="3.57" height="9.74" fill="#fa9fb5"/>
<rect x="182.88" y="242.84" width="6.73" height="9.74" fill="#fcc5c0"/>
<rect x="189.21" y="242.84" width="18.99" height="9.74" fill="#fde0dd"/>
<rect x="277.84" y="242.84" width="3.57" height="9.74" fill="#e5f5f9"/>
<rect x="281" y="242.84" width="3.57" height="9.74" fill="#ccece6"/>
<rect x="284.17" y="242.84" width="3.57" height="9.74" fill="#e5f5f9"/>
<rect x="287.33" y="242.84" width="13.06" height="9.74" fill="#f7fcfd"/>
<rect x="299.99" y="242.84" width="3.57" height="9.74" fill="#e5f5f9"/>
<rect x="303.16" y="242.84" width="3.57" height="9.74" fill="#99d8c9"/>
<rect x="306.33" y="242.84" width="3.57" height="9.74" fill="#ccece6"/>
<rect x="309.49" y="242.84" width="3.57" height="9.74" fill="#99d8c9"/>
<rect x="312.66" y="242.84" width="3.17" height="9.74" fill="#ccece6"/>
<rect x="110.08" y="252.28" width="9.9" height="9.74" fill="#fcc5c0"/>
<rect x="119.57" y="252.28" width="3.57" height="9.74" fill="#ae017e"/>
<rect x="122.74" y="252.28" width="9.9" height="9.74" fill="#fa9fb5"/>
<rect x="132.24" y="252.28" width="3.57" height="9.74" fill="#fcc5c0"/>
<rect x="135.4" y="252.28" width="3.57" height="9.74" fill="#fa9fb5"/>
<rect x="138.57" y="252.28" width="3.57" height="9.74" fill="#fde0dd"/>
<rect x="141.73" y="252.28" width="6.33" height="9.74" fill="#fa9fb5"/>
<rect x="173.38" y="252.28" width="9.9" height="9.74" fill="#ae017e"/>
<rect x="182.88" y="252.28" width="6.73" height="9.74" fill="#7a0177"/>
<rect x="189.21" y="252.28" width="19.39" height="9.74" fill="#49006a"/>
<rect x="208.2" y="252.28" width="3.17" height="9.74" fill="#fa9fb5"/>
<rect x="224.03" y="252.28" width="6.33" height="9.74" fill="#fcc5c0"/>
<rect x="233.52" y="252.28" width="9.9" height="9.74" fill="#fde0dd"/>
<rect x="243.02" y="252.28" width="9.5" height="9.74" fill="#fcc5c0"/>
<rect x="290.5" y="252.28" width="3.57" height="9.74" fill="#fcc5c0"/>
<rect x="293.66" y="252.28" width="3.57" height="9.74" fill="#fde0dd"/>
<rect x="296.83" y="252.28" width="3.17" height="9.74" fill="#fcc5c0"/>
<rect x="303.16" y="252.28" width="3.57" height="9.74" fill="#e5f5f9"/>
<rect x="306.33" y="252.28" width="12.66" height="9.74" fill="#fcc5c0"/>
<rect x="78.43" y="261.72" width="9.9" height="9.74" fill="#ccece6"/>
<rect x="87.92" y="261.72" width="3.57" height="9.74" fill="#99d8c9"/>
<rect x="91.09" y="261.72" width="3.17" height="9.74" fill="#ccece6"/>
<rect x="211.37" y="261.72" width="3.57" height="9.74" fill="#41ae76"/>
<rect x="214.53" y="261.72" width="13.06" height="9.74" fill="#000000"/>
<rect x="227.19" y="261.72" width="3.57" height="9.74" fill="#00441b"/>
<rect x="230.36" y="261.72" width="16.23" height="9.74" fill="#000000"/>
<rect x="246.19" y="261.72" width="3.57" height="9.74" fill="#238b45"/>
<rect x="249.35" y="261.72" width="3.17" height="9.74" fill="#41ae76"/>
<rect x="274.67" y="261.72" width="3.57" height="9.74" fill="#e5f5f9"/>
<rect x="277.84" y="261.72" width="3.57" height="9.74" fill="#66c2a4"/>
<rect x="281" y="261.72" width="3.57" height="9.74" fill="#238b45"/>
<rect x="284.17" y="261.72" width="9.9" height="9.74" fill="#ccece6"/>
<rect x="293.66" y="261.72" width="6.73" height="9.74" fill="#99d8c9"/>
<rect x="299.99" y="261.72" width="6.73" height="9.74" fill="#66c2a4"/>
<rect x="306.33" y="261.72" width="6.73" height="9.74" fill="#00441b"/>
<rect x="312.66" y="261.72" width="3.17" height="9.74" fill="#41ae76"/>
<rect x="322.15" y="261.72" width="3.57" height="9.74" fill="#ccece6"/>
<rect x="325.32" y="261.72" width="3.57" height="9.74" fill="#238b45"/>
<rect x="328.48" y="261.72" width="6.73" height="9.74" fill="#99d8c9"/>
<rect x="334.81" y="261.72" width="9.9" height="9.74" fill="#66c2a4"/>
<rect x="344.31" y="261.72" width="3.17" height="9.74" fill="#006d2c"/>
<rect x="176.55" y="271.16" width="3.57" height="9.74" fill="#fcc5c0"/>
<rect x="179.71" y="271.16" width="16.23" height="9.74" fill="#7a0177"/>
<rect x="195.54" y="271.16" width="3.57" height="9.74" fill="#fcc5c0"/>
<rect x="198.71" y="271.16" width="9.5" height="9.74" fill="#ae017e"/>
<rect x="224.03" y="271.16" width="3.17" height="9.74" fill="#e5f5f9"/>
<rect x="106.91" y="280.6" width="3.57" height="9.74" fill="#fcc5c0"/>
<rect x="110.08" y="280.6" width="6.73" height="9.74" fill="#f768a1"/>
<rect x="116.41" y="280.6" width="16.23" height="9.74" fill="#49006a"/>
<rect x="132.24" y="280.6" width="6.73" height="9.74" fill="#f768a1"/>
<rect x="138.57" y="280.6" width="6.73" height="9.74" fill="#fa9fb5"/>
<rect x="144.9" y="280.6" width="3.17" height="9.74" fill="#fde0dd"/>
<rect x="173.38" y="280.6" width="3.57" height="9.74" fill="#fcc5c0"/>
<rect x="176.55" y="280.6" width="3.57" height="9.74" fill="#f768a1"/>
<rect x="179.71" y="280.6" width="41.55" height="9.74" fill="#49006a"/>
<rect x="220.86" y="280.6" width="3.57" height="9.74" fill="#fa9fb5"/>
<rect x="224.03" y="280.6" width="9.9" height="9.74" fill="#49006a"/>
<rect x="233.52" y="280.6" width="6.73" height="9.74" fill="#f768a1"/>
<rect x="239.85" y="280.6" width="6.73" height="9.74" fill="#49006a"/>
<rect x="246.19" y="280.6" width="6.33" height="9.74" fill="#fcc5c0"/>
<rect x="217.7" y="290.04" width="9.9" height="9.74" fill="#00441b"/>
<rect x="227.19" y="290.04" width="13.06" height="9.74" fill="#006d2c"/>
<rect x="239.85" y="290.04" width="9.5" height="9.74" fill="#41ae76"/>
<rect x="176.55" y="299.48" width="3.57" height="9.74" fill="#fcc5c0"/>
<rect x="179.71" y="299.48" width="3.17" height="9.74" fill="#dd3497"/>
<rect x="186.05" y="299.48" width="3.17" height="9.74" fill="#e5f5f9"/>
<rect x="78.43" y="308.92" width="9.9" height="9.74" fill="#ccece6"/>
<rect x="87.92" y="308.92" width="3.57" height="9.74" fill="#99d8c9"/>
<rect x="91.09" y="308.92" width="3.17" height="9.74" fill="#ccece6"/>
<rect x="176.55" y="308.92" width="3.57" height="9.74" fill="#fa9fb5"/>
<rect x="179.71" y="308.92" width="3.57" height="9.74" fill="#dd3497"/>
<rect x="182.88" y="308.92" width="3.17" height="9.74" fill="#fcc5c0"/>
<rect x="94.25" y="318.36" width="3.57" height="9.74" fill="#41ae76"/>
<rect x="97.42" y="318.36" width="6.73" height="9.74" fill="#006d2c"/>
<rect x="103.75" y="318.36" width="51.04" height="9.74" fill="#000000"/>
<rect x="154.39" y="318.36" width="3.17" height="9.74" fill="#00441b"/>
<rect x="173.38" y="318.36" width="9.9" height="9.74" fill="#006d2c"/>
<rect x="182.88" y="318.36" width="6.73" height="9.74" fill="#41ae76"/>
<rect x="189.21" y="318.36" width="6.73" height="9.74" fill="#00441b"/>
<rect x="195.54" y="318.36" width="3.57" height="9.74" fill="#006d2c"/>
<rect x="198.71" y="318.36" width="9.5" height="9.74" fill="#00441b"/>
<rect x="214.53" y="318.36" width="6.73" height="9.74" fill="#00441b"/>
<rect x="220.86" y="318.36" width="31.65" height="9.74" fill="#000000"/>
<rect x="268.34" y="318.36" width="9.9" height="9.74" fill="#006d2c"/>
<rect x="277.84" y="318.36" width="3.57" height="9.74" fill="#41ae76"/>
<rect x="281" y="318.36" width="3.17" height="9.74" fill="#238b45"/>
<rect x="287.33" y="318.36" width="6.73" height="9.74" fill="#66c2a4"/>
<rect x="293.66" y="318.36" width="6.73" height="9.74" fill="#e5f5f9"/>
<rect x="299.99" y="318.36" width="6.73" height="9.74" fill="#66c2a4"/>
<rect x="306.33" y="318.36" width="3.17" height="9.74" fill="#e5f5f9"/>
<rect x="91.09" y="327.8" width="54.21" height="9.74" fill="#000000"/>
<rect x="144.9" y="327.8" width="3.57" height="9.74" fill="#66c2a4"/>
<rect x="148.06" y="327.8" width="6.33" height="9.74" fill="#00441b"/>
<rect x="173.38" y="327.8" width="9.9" height="9.74" fill="#000000"/>
<rect x="182.88" y="327.8" width="6.73" height="9.74" fill="#238b45"/>
<rect x="189.21" y="327.8" width="19.39" height="9.74" fill="#00441b"/>
<rect x="208.2" y="327.8" width="3.57" height="9.74" fill="#006d2c"/>
<rect x="211.37" y="327.8" width="3.57" height="9.74" fill="#00441b"/>
<rect x="214.53" y="327.8" width="9.9" height="9.74" fill="#006d2c"/>
<rect x="224.03" y="327.8" width="9.9" height="9.74" fill="#000000"/>
<rect x="233.52" y="327.8" width="16.23" height="9.74" fill="#00441b"/>
<rect x="249.35" y="327.8" width="3.17" height="9.74" fill="#e5f5f9"/>
<rect x="268.34" y="327.8" width="28.89" height="9.74" fill="#000000"/>
<rect x="296.83" y="327.8" width="3.57" height="9.74" fill="#006d2c"/>
<rect x="299.99" y="327.8" width="6.73" height="9.74" fill="#ccece6"/>
<rect x="306.33" y="327.8" width="3.57" height="9.74" fill="#41ae76"/>
<rect x="309.49" y="327.8" width="6.73" height="9.74" fill="#66c2a4"/>
<rect x="315.82" y="327.8" width="9.5" height="9.74" fill="#e5f5f9"/>
<rect x="334.81" y="327.8" width="9.9" height="9.74" fill="#f7fcfd"/>
<rect x="344.31" y="327.8" width="3.17" height="9.74" fill="#ccece6"/>
<rect x="173.38" y="337.24" width="6.33" height="9.74" fill="#e5f5f9"/>
<rect x="78.43" y="346.68" width="3.17" height="9.74" fill="#e5f5f9"/>
<rect x="87.92" y="346.68" width="3.57" height="9.74" fill="#66c2a4"/>
<rect x="91.09" y="346.68" width="3.57" height="9.74" fill="#ccece6"/>
<rect x="94.25" y="346.68" width="6.73" height="9.74" fill="#e5f5f9"/>
<rect x="100.58" y="346.68" width="3.57" height="9.74" fill="#99d8c9"/>
<rect x="103.75" y="346.68" width="3.57" height="9.74" fill="#e5f5f9"/>
<rect x="106.91" y="346.68" width="3.57" height="9.74" fill="#41ae76"/>
<rect x="110.08" y="346.68" width="6.73" height="9.74" fill="#00441b"/>
<rect x="116.41" y="346.68" width="9.9" height="9.74" fill="#000000"/>
<rect x="125.91" y="346.68" width="13.06" height="9.74" fill="#00441b"/>
<rect x="138.57" y="346.68" width="6.73" height="9.74" fill="#000000"/>
<rect x="144.9" y="346.68" width="9.5" height="9.74" fill="#41ae76"/>
<rect x="224.03" y="346.68" width="3.57" height="9.74" fill="#ccece6"/>
<rect x="227.19" y="346.68" width="3.57" height="9.74" fill="#99d8c9"/>
<rect x="230.36" y="346.68" width="9.9" height="9.74" fill="#00441b"/>
<rect x="239.85" y="346.68" width="3.57" height="9.74" fill="#000000"/>
<rect x="243.02" y="346.68" width="6.73" height="9.74" fill="#00441b"/>
<rect x="249.35" y="346.68" width="3.17" height="9.74" fill="#238b45"/>
<rect x="268.34" y="346.68" width="25.72" height="9.74" fill="#006d2c"/>
<rect x="293.66" y="346.68" width="13.06" height="9.74" fill="#238b45"/>
<rect x="306.33" y="346.68" width="3.57" height="9.74" fill="#00441b"/>
<rect x="309.49" y="346.68" width="16.23" height="9.74" fill="#000000"/>
<rect x="325.32" y="346.68" width="3.57" height="9.74" fill="#00441b"/>
<rect x="328.48" y="346.68" width="3.57" height="9.74" fill="#99d8c9"/>
<rect x="331.65" y="346.68" width="15.83" height="9.74" fill="#f7fcfd"/>
<rect x="91.09" y="356.12" width="3.57" height="9.74" fill="#fcc5c0"/>
<rect x="94.25" y="356.12" width="9.9" height="9.74" fill="#ae017e"/>
<rect x="103.75" y="356.12" width="51.04" height="9.74" fill="#49006a"/>
<rect x="154.39" y="356.12" width="3.17" height="9.74" fill="#dd3497"/>
<rect x="173.38" y="356.12" width="9.9" height="9.74" fill="#49006a"/>
<rect x="182.88" y="356.12" width="3.57" height="9.74" fill="#7a0177"/>
<rect x="186.05" y="356.12" width="3.57" height="9.74" fill="#ae017e"/>
<rect x="189.21" y="356.12" width="19.39" height="9.74" fill="#49006a"/>
<rect x="208.2" y="356.12" width="3.57" height="9.74" fill="#7a0177"/>
<rect x="211.37" y="356.12" width="3.57" height="9.74" fill="#fcc5c0"/>
<rect x="214.53" y="356.12" width="3.57" height="9.74" fill="#49006a"/>
<rect x="217.7" y="356.12" width="3.57" height="9.74" fill="#fcc5c0"/>
<rect x="220.86" y="356.12" width="3.57" height="9.74" fill="#ae017e"/>
<rect x="224.03" y="356.12" width="9.9" height="9.74" fill="#49006a"/>
<rect x="233.52" y="356.12" width="6.73" height="9.74" fill="#fcc5c0"/>
<rect x="239.85" y="356.12" width="6.73" height="9.74" fill="#49006a"/>
<rect x="246.19" y="356.12" width="3.57" height="9.74" fill="#7a0177"/>
<rect x="249.35" y="356.12" width="3.17" height="9.74" fill="#fcc5c0"/>
<rect x="268.34" y="356.12" width="3.17" height="9.74" fill="#fde0dd"/>
<rect x="277.84" y="356.12" width="6.33" height="9.74" fill="#ae017e"/>
<rect x="287.33" y="356.12" width="13.06" height="9.74" fill="#ae017e"/>
<rect x="299.99" y="356.12" width="6.73" height="9.74" fill="#fcc5c0"/>
<rect x="306.33" y="356.12" width="3.57" height="9.74" fill="#49006a"/>
<rect x="309.49" y="356.12" width="6.73" height="9.74" fill="#7a0177"/>
<rect x="315.82" y="356.12" width="3.57" height="9.74" fill="#dd3497"/>
<rect x="318.99" y="356.12" width="6.73" height="9.74" fill="#49006a"/>
<rect x="325.32" y="356.12" width="3.17" height="9.74" fill="#fcc5c0"/>
<rect x="331.65" y="356.12" width="13.06" height="9.74" fill="#fde0dd"/>
<rect x="344.31" y="356.12" width="3.17" height="9.74" fill="#ae017e"/>
<rect x="78.43" y="365.56" width="3.17" height="9.44" fill="#e5f5f9"/>
<rect x="87.92" y="365.56" width="6.33" height="9.44" fill="#ccece6"/>
<rect x="103.75" y="365.56" width="3.17" height="9.44" fill="#e5f5f9"/>
<rect x="110.08" y="365.56" width="6.73" height="9.44" fill="#fcc5c0"/>
<rect x="116.41" y="365.56" width="6.73" height="9.44" fill="#f768a1"/>
<rect x="122.74" y="365.56" width="3.57" height="9.44" fill="#7a0177"/>
<rect x="125.91" y="365.56" width="6.73" height="9.44" fill="#49006a"/>
<rect x="132.24" y="365.56" width="6.73" height="9.44" fill="#fa9fb5"/>
<rect x="138.57" y="365.56" width="16.23" height="9.44" fill="#49006a"/>
<rect x="154.39" y="365.56" width="3.17" height="9.44" fill="#7a0177"/>
<rect x="173.38" y="365.56" width="9.9" height="9.44" fill="#49006a"/>
<rect x="182.88" y="365.56" width="3.57" height="9.44" fill="#7a0177"/>
<rect x="186.05" y="365.56" width="3.57" height="9.44" fill="#ae017e"/>
<rect x="189.21" y="365.56" width="63.31" height="9.44" fill="#49006a"/>
<rect x="62.6" y="233.4" width="300.7" height="141.6" fill="none" stroke="#2e2e2e" stroke-width="0.95"/>
<path d="M58.6 238.12H62.6" stroke="#222" stroke-width="0.8"/>
<text transform="translate(55.1 241.62) scale(0.94 1)" text-anchor="end" class="rl">Tmin</text>
<path d="M58.6 247.56H62.6" stroke="#222" stroke-width="0.8"/>
<text transform="translate(55.1 251.06) scale(0.94 1)" text-anchor="end" class="rl">Tmean</text>
<path d="M58.6 257H62.6" stroke="#222" stroke-width="0.8"/>
<text transform="translate(55.1 260.5) scale(0.94 1)" text-anchor="end" class="rl">Tmax</text>
<path d="M58.6 266.44H62.6" stroke="#222" stroke-width="0.8"/>
<text transform="translate(55.1 269.94) scale(0.94 1)" text-anchor="end" class="rl">LSTmin</text>
<path d="M58.6 275.88H62.6" stroke="#222" stroke-width="0.8"/>
<text transform="translate(55.1 279.38) scale(0.94 1)" text-anchor="end" class="rl">LSTmean</text>
<path d="M58.6 285.32H62.6" stroke="#222" stroke-width="0.8"/>
<text transform="translate(55.1 288.82) scale(0.94 1)" text-anchor="end" class="rl">LSTmax</text>
<path d="M58.6 294.76H62.6" stroke="#222" stroke-width="0.8"/>
<text transform="translate(55.1 298.26) scale(0.94 1)" text-anchor="end" class="rl">STmin</text>
<path d="M58.6 304.2H62.6" stroke="#222" stroke-width="0.8"/>
<text transform="translate(55.1 307.7) scale(0.94 1)" text-anchor="end" class="rl">STmean</text>
<path d="M58.6 313.64H62.6" stroke="#222" stroke-width="0.8"/>
<text transform="translate(55.1 317.14) scale(0.94 1)" text-anchor="end" class="rl">STmax</text>
<path d="M58.6 323.08H62.6" stroke="#222" stroke-width="0.8"/>
<text transform="translate(55.1 326.58) scale(0.94 1)" text-anchor="end" class="rl">rHmin</text>
<path d="M58.6 332.52H62.6" stroke="#222" stroke-width="0.8"/>
<text transform="translate(55.1 336.02) scale(0.94 1)" text-anchor="end" class="rl">rHmean</text>
<path d="M58.6 341.96H62.6" stroke="#222" stroke-width="0.8"/>
<text transform="translate(55.1 345.46) scale(0.94 1)" text-anchor="end" class="rl">rHmax</text>
<path d="M58.6 351.4H62.6" stroke="#222" stroke-width="0.8"/>
<text transform="translate(55.1 354.9) scale(0.94 1)" text-anchor="end" class="rl">Ptot</text>
<path d="M58.6 360.84H62.6" stroke="#222" stroke-width="0.8"/>
<text transform="translate(55.1 364.34) scale(0.94 1)" text-anchor="end" class="rl">Radmean</text>
<path d="M58.6 370.28H62.6" stroke="#222" stroke-width="0.8"/>
<text transform="translate(55.1 373.78) scale(0.94 1)" text-anchor="end" class="rl">Radmax</text>
<path d="M81.59 375V379" stroke="#222" stroke-width="0.8"/>
<text transform="translate(90.89 384.3) rotate(-45) scale(0.9 1)" text-anchor="end" class="tl">04/05</text>
<path d="M119.57 375V379" stroke="#222" stroke-width="0.8"/>
<text transform="translate(128.87 384.3) rotate(-45) scale(0.9 1)" text-anchor="end" class="tl">06/07</text>
<path d="M154.39 375V379" stroke="#222" stroke-width="0.8"/>
<text transform="translate(163.69 384.3) rotate(-45) scale(0.9 1)" text-anchor="end" class="tl">08/09</text>
<text transform="translate(114.83 408.7)" text-anchor="middle" class="yl">2012</text>
<path d="M176.55 375V379" stroke="#222" stroke-width="0.8"/>
<text transform="translate(185.85 384.3) rotate(-45) scale(0.9 1)" text-anchor="end" class="tl">04/05</text>
<path d="M214.53 375V379" stroke="#222" stroke-width="0.8"/>
<text transform="translate(223.83 384.3) rotate(-45) scale(0.9 1)" text-anchor="end" class="tl">06/07</text>
<path d="M249.35 375V379" stroke="#222" stroke-width="0.8"/>
<text transform="translate(258.65 384.3) rotate(-45) scale(0.9 1)" text-anchor="end" class="tl">08/09</text>
<text transform="translate(209.78 408.7)" text-anchor="middle" class="yl">2013</text>
<path d="M271.51 375V379" stroke="#222" stroke-width="0.8"/>
<text transform="translate(280.81 384.3) rotate(-45) scale(0.9 1)" text-anchor="end" class="tl">04/05</text>
<path d="M309.49 375V379" stroke="#222" stroke-width="0.8"/>
<text transform="translate(318.79 384.3) rotate(-45) scale(0.9 1)" text-anchor="end" class="tl">06/07</text>
<path d="M344.31 375V379" stroke="#222" stroke-width="0.8"/>
<text transform="translate(353.61 384.3) rotate(-45) scale(0.9 1)" text-anchor="end" class="tl">08/09</text>
<text transform="translate(310.44 408.7)" text-anchor="middle" class="yl">2014</text>
<use href="#h" x="406.4" y="233.4"/>
<use href="#h" x="501.36" y="233.4"/>
<use href="#h" x="596.32" y="233.4"/>
<use href="#h" x="691.27" y="233.4"/>
<rect x="422.23" y="233.4" width="6.73" height="9.74" fill="#f768a1"/>
<rect x="428.56" y="233.4" width="3.17" height="9.74" fill="#fff7f3"/>
<rect x="539.34" y="233.4" width="3.17" height="9.74" fill="#fde0dd"/>
<rect x="545.67" y="233.4" width="6.33" height="9.74" fill="#fde0dd"/>
<rect x="558.33" y="233.4" width="3.17" height="9.74" fill="#f7fcfd"/>
<rect x="612.14" y="233.4" width="3.17" height="9.74" fill="#fde0dd"/>
<rect x="634.3" y="233.4" width="9.9" height="9.74" fill="#fde0dd"/>
<rect x="643.79" y="233.4" width="3.57" height="9.74" fill="#fa9fb5"/>
<rect x="646.96" y="233.4" width="3.57" height="9.74" fill="#f768a1"/>
<rect x="650.13" y="233.4" width="6.73" height="9.74" fill="#fde0dd"/>
<rect x="656.46" y="233.4" width="9.5" height="9.74" fill="#fcc5c0"/>
<rect x="558.33" y="242.84" width="6.33" height="9.74" fill="#e5f5f9"/>
<rect x="567.83" y="242.84" width="3.17" height="9.74" fill="#ccece6"/>
<rect x="574.16" y="242.84" width="6.33" height="9.74" fill="#f7fcfd"/>
<rect x="580.49" y="252.28" width="9.9" height="9.74" fill="#238b45"/>
<rect x="589.99" y="252.28" width="6.33" height="9.74" fill="#006d2c"/>
<rect x="612.14" y="252.28" width="28.49" height="9.74" fill="#f7fcfd"/>
<rect x="422.23" y="261.72" width="6.73" height="9.74" fill="#49006a"/>
<rect x="428.56" y="261.72" width="3.17" height="9.74" fill="#fde0dd"/>
<rect x="482.37" y="261.72" width="18.99" height="9.74" fill="#fde0dd"/>
<rect x="589.99" y="280.6" width="3.17" height="9.74" fill="#f7fcfd"/>
<rect x="552" y="290.04" width="3.17" height="9.74" fill="#fde0dd"/>
<rect x="634.3" y="290.04" width="13.06" height="9.74" fill="#fde0dd"/>
<rect x="646.96" y="290.04" width="3.57" height="9.74" fill="#fcc5c0"/>
<rect x="650.13" y="290.04" width="3.57" height="9.74" fill="#fa9fb5"/>
<rect x="653.29" y="290.04" width="3.57" height="9.74" fill="#fde0dd"/>
<rect x="656.46" y="290.04" width="3.57" height="9.74" fill="#fcc5c0"/>
<rect x="659.62" y="290.04" width="3.57" height="9.74" fill="#fde0dd"/>
<rect x="662.79" y="290.04" width="3.57" height="9.74" fill="#fcc5c0"/>
<rect x="665.95" y="290.04" width="3.17" height="9.74" fill="#fde0dd"/>
<rect x="634.3" y="299.48" width="28.89" height="9.74" fill="#fde0dd"/>
<rect x="662.79" y="299.48" width="3.17" height="9.74" fill="#fcc5c0"/>
<rect x="466.54" y="308.92" width="3.17" height="9.74" fill="#fde0dd"/>
<rect x="476.04" y="308.92" width="3.17" height="9.74" fill="#fde0dd"/>
<rect x="488.7" y="308.92" width="6.33" height="9.74" fill="#fde0dd"/>
<rect x="425.39" y="318.36" width="3.57" height="9.74" fill="#fcc5c0"/>
<rect x="428.56" y="318.36" width="3.57" height="9.74" fill="#f768a1"/>
<rect x="431.72" y="318.36" width="9.9" height="9.74" fill="#fcc5c0"/>
<rect x="441.22" y="318.36" width="3.57" height="9.74" fill="#fa9fb5"/>
<rect x="444.38" y="318.36" width="13.06" height="9.74" fill="#fcc5c0"/>
<rect x="457.04" y="318.36" width="3.57" height="9.74" fill="#fde0dd"/>
<rect x="460.21" y="318.36" width="6.73" height="9.74" fill="#fcc5c0"/>
<rect x="466.54" y="318.36" width="3.17" height="9.74" fill="#fde0dd"/>
<rect x="472.87" y="318.36" width="3.17" height="9.74" fill="#fcc5c0"/>
<rect x="580.49" y="318.36" width="9.9" height="9.74" fill="#f768a1"/>
<rect x="589.99" y="318.36" width="6.33" height="9.74" fill="#ae017e"/>
<rect x="631.13" y="318.36" width="3.57" height="9.74" fill="#fde0dd"/>
<rect x="634.3" y="318.36" width="16.23" height="9.74" fill="#dd3497"/>
<rect x="650.13" y="318.36" width="3.57" height="9.74" fill="#ae017e"/>
<rect x="653.29" y="318.36" width="3.57" height="9.74" fill="#dd3497"/>
<rect x="656.46" y="318.36" width="3.57" height="9.74" fill="#ae017e"/>
<rect x="659.62" y="318.36" width="3.57" height="9.74" fill="#dd3497"/>
<rect x="662.79" y="318.36" width="3.57" height="9.74" fill="#ae017e"/>
<rect x="665.95" y="318.36" width="3.57" height="9.74" fill="#7a0177"/>
<rect x="669.12" y="318.36" width="3.17" height="9.74" fill="#fcc5c0"/>
<rect x="681.78" y="318.36" width="9.5" height="9.74" fill="#fde0dd"/>
<rect x="422.23" y="327.8" width="3.17" height="9.74" fill="#fde0dd"/>
<rect x="428.56" y="327.8" width="19.39" height="9.74" fill="#fcc5c0"/>
<rect x="447.55" y="327.8" width="3.57" height="9.74" fill="#fde0dd"/>
<rect x="450.71" y="327.8" width="6.73" height="9.74" fill="#fcc5c0"/>
<rect x="457.04" y="327.8" width="3.57" height="9.74" fill="#fde0dd"/>
<rect x="460.21" y="327.8" width="9.9" height="9.74" fill="#fcc5c0"/>
<rect x="469.71" y="327.8" width="9.9" height="9.74" fill="#fde0dd"/>
<rect x="479.2" y="327.8" width="6.73" height="9.74" fill="#fcc5c0"/>
<rect x="485.53" y="327.8" width="15.83" height="9.74" fill="#f768a1"/>
<rect x="558.33" y="327.8" width="6.33" height="9.74" fill="#fde0dd"/>
<rect x="574.16" y="327.8" width="3.17" height="9.74" fill="#fde0dd"/>
<rect x="580.49" y="327.8" width="3.57" height="9.74" fill="#fa9fb5"/>
<rect x="583.65" y="327.8" width="6.73" height="9.74" fill="#f768a1"/>
<rect x="589.99" y="327.8" width="6.33" height="9.74" fill="#ae017e"/>
<rect x="634.3" y="327.8" width="9.9" height="9.74" fill="#f768a1"/>
<rect x="643.79" y="327.8" width="3.57" height="9.74" fill="#fde0dd"/>
<rect x="646.96" y="327.8" width="6.73" height="9.74" fill="#fcc5c0"/>
<rect x="653.29" y="327.8" width="3.17" height="9.74" fill="#fde0dd"/>
<rect x="425.39" y="337.24" width="3.57" height="9.74" fill="#fcc5c0"/>
<rect x="428.56" y="337.24" width="3.57" height="9.74" fill="#ae017e"/>
<rect x="431.72" y="337.24" width="35.22" height="9.74" fill="#49006a"/>
<rect x="466.54" y="337.24" width="3.57" height="9.74" fill="#7a0177"/>
<rect x="469.71" y="337.24" width="3.57" height="9.74" fill="#fa9fb5"/>
<rect x="472.87" y="337.24" width="3.57" height="9.74" fill="#f768a1"/>
<rect x="476.04" y="337.24" width="13.06" height="9.74" fill="#fcc5c0"/>
<rect x="488.7" y="337.24" width="3.57" height="9.74" fill="#f768a1"/>
<rect x="491.86" y="337.24" width="3.17" height="9.74" fill="#fde0dd"/>
<rect x="517.18" y="337.24" width="6.73" height="9.74" fill="#fde0dd"/>
<rect x="523.51" y="337.24" width="3.17" height="9.74" fill="#fa9fb5"/>
<rect x="580.49" y="337.24" width="3.57" height="9.74" fill="#fa9fb5"/>
<rect x="583.65" y="337.24" width="12.66" height="9.74" fill="#fcc5c0"/>
<rect x="612.14" y="337.24" width="3.57" height="9.74" fill="#e5f5f9"/>
<rect x="615.31" y="337.24" width="3.57" height="9.74" fill="#ccece6"/>
<rect x="618.47" y="337.24" width="9.9" height="9.74" fill="#e5f5f9"/>
<rect x="627.97" y="337.24" width="3.57" height="9.74" fill="#fde0dd"/>
<rect x="631.13" y="337.24" width="3.57" height="9.74" fill="#ccece6"/>
<rect x="634.3" y="337.24" width="16.23" height="9.74" fill="#fa9fb5"/>
<rect x="650.13" y="337.24" width="3.57" height="9.74" fill="#f768a1"/>
<rect x="653.29" y="337.24" width="3.17" height="9.74" fill="#fcc5c0"/>
<rect x="580.49" y="356.12" width="9.9" height="9.74" fill="#f7fcfd"/>
<rect x="589.99" y="356.12" width="6.33" height="9.74" fill="#99d8c9"/>
<rect x="656.46" y="356.12" width="9.9" height="9.74" fill="#f7fcfd"/>
<rect x="665.95" y="356.12" width="3.57" height="9.74" fill="#ccece6"/>
<rect x="669.12" y="356.12" width="3.57" height="9.74" fill="#99d8c9"/>
<rect x="672.28" y="356.12" width="6.73" height="9.74" fill="#e5f5f9"/>
<rect x="678.61" y="356.12" width="12.66" height="9.74" fill="#f7fcfd"/>
<rect x="453.88" y="365.56" width="9.5" height="9.44" fill="#f7fcfd"/>
<rect x="476.04" y="365.56" width="3.57" height="9.44" fill="#ccece6"/>
<rect x="479.2" y="365.56" width="3.17" height="9.44" fill="#238b45"/>
<rect x="406.4" y="233.4" width="300.7" height="141.6" fill="none" stroke="#2e2e2e" stroke-width="0.95"/>
<path d="M402.4 238.12H406.4" stroke="#222" stroke-width="0.8"/>
<text transform="translate(398.9 241.62) scale(0.94 1)" text-anchor="end" class="rl">Tmin</text>
<path d="M402.4 247.56H406.4" stroke="#222" stroke-width="0.8"/>
<text transform="translate(398.9 251.06) scale(0.94 1)" text-anchor="end" class="rl">Tmean</text>
<path d="M402.4 257H406.4" stroke="#222" stroke-width="0.8"/>
<text transform="translate(398.9 260.5) scale(0.94 1)" text-anchor="end" class="rl">Tmax</text>
<path d="M402.4 266.44H406.4" stroke="#222" stroke-width="0.8"/>
<text transform="translate(398.9 269.94) scale(0.94 1)" text-anchor="end" class="rl">LSTmin</text>
<path d="M402.4 275.88H406.4" stroke="#222" stroke-width="0.8"/>
<text transform="translate(398.9 279.38) scale(0.94 1)" text-anchor="end" class="rl">LSTmean</text>
<path d="M402.4 285.32H406.4" stroke="#222" stroke-width="0.8"/>
<text transform="translate(398.9 288.82) scale(0.94 1)" text-anchor="end" class="rl">LSTmax</text>
<path d="M402.4 294.76H406.4" stroke="#222" stroke-width="0.8"/>
<text transform="translate(398.9 298.26) scale(0.94 1)" text-anchor="end" class="rl">STmin</text>
<path d="M402.4 304.2H406.4" stroke="#222" stroke-width="0.8"/>
<text transform="translate(398.9 307.7) scale(0.94 1)" text-anchor="end" class="rl">STmean</text>
<path d="M402.4 313.64H406.4" stroke="#222" stroke-width="0.8"/>
<text transform="translate(398.9 317.14) scale(0.94 1)" text-anchor="end" class="rl">STmax</text>
<path d="M402.4 323.08H406.4" stroke="#222" stroke-width="0.8"/>
<text transform="translate(398.9 326.58) scale(0.94 1)" text-anchor="end" class="rl">rHmin</text>
<path d="M402.4 332.52H406.4" stroke="#222" stroke-width="0.8"/>
<text transform="translate(398.9 336.02) scale(0.94 1)" text-anchor="end" class="rl">rHmean</text>
<path d="M402.4 341.96H406.4" stroke="#222" stroke-width="0.8"/>
<text transform="translate(398.9 345.46) scale(0.94 1)" text-anchor="end" class="rl">rHmax</text>
<path d="M402.4 351.4H406.4" stroke="#222" stroke-width="0.8"/>
<text transform="translate(398.9 354.9) scale(0.94 1)" text-anchor="end" class="rl">Ptot</text>
<path d="M402.4 360.84H406.4" stroke="#222" stroke-width="0.8"/>
<text transform="translate(398.9 364.34) scale(0.94 1)" text-anchor="end" class="rl">Radmean</text>
<path d="M402.4 370.28H406.4" stroke="#222" stroke-width="0.8"/>
<text transform="translate(398.9 373.78) scale(0.94 1)" text-anchor="end" class="rl">Radmax</text>
<path d="M425.39 375V379" stroke="#222" stroke-width="0.8"/>
<text transform="translate(434.69 384.3) rotate(-45) scale(0.9 1)" text-anchor="end" class="tl">04/05</text>
<path d="M463.37 375V379" stroke="#222" stroke-width="0.8"/>
<text transform="translate(472.67 384.3) rotate(-45) scale(0.9 1)" text-anchor="end" class="tl">06/07</text>
<path d="M498.19 375V379" stroke="#222" stroke-width="0.8"/>
<text transform="translate(507.49 384.3) rotate(-45) scale(0.9 1)" text-anchor="end" class="tl">08/09</text>
<text transform="translate(458.63 408.7)" text-anchor="middle" class="yl">2012</text>
<path d="M520.35 375V379" stroke="#222" stroke-width="0.8"/>
<text transform="translate(529.65 384.3) rotate(-45) scale(0.9 1)" text-anchor="end" class="tl">04/05</text>
<path d="M558.33 375V379" stroke="#222" stroke-width="0.8"/>
<text transform="translate(567.63 384.3) rotate(-45) scale(0.9 1)" text-anchor="end" class="tl">06/07</text>
<path d="M593.15 375V379" stroke="#222" stroke-width="0.8"/>
<text transform="translate(602.45 384.3) rotate(-45) scale(0.9 1)" text-anchor="end" class="tl">08/09</text>
<text transform="translate(553.58 408.7)" text-anchor="middle" class="yl">2013</text>
<path d="M615.31 375V379" stroke="#222" stroke-width="0.8"/>
<text transform="translate(624.61 384.3) rotate(-45) scale(0.9 1)" text-anchor="end" class="tl">04/05</text>
<path d="M653.29 375V379" stroke="#222" stroke-width="0.8"/>
<text transform="translate(662.59 384.3) rotate(-45) scale(0.9 1)" text-anchor="end" class="tl">06/07</text>
<path d="M688.11 375V379" stroke="#222" stroke-width="0.8"/>
<text transform="translate(697.41 384.3) rotate(-45) scale(0.9 1)" text-anchor="end" class="tl">08/09</text>
<text transform="translate(654.24 408.7)" text-anchor="middle" class="yl">2014</text>
<text transform="translate(12.2 509.8) rotate(-90) scale(0.92 1)" text-anchor="middle" class="sp">Oak</text>
<use href="#h" x="62.6" y="439.3"/>
<use href="#h" x="157.56" y="439.3"/>
<use href="#h" x="252.52" y="439.3"/>
<use href="#h" x="347.47" y="439.3"/>
<rect x="103.75" y="439.3" width="3.17" height="9.74" fill="#ccece6"/>
<rect x="116.41" y="439.3" width="6.33" height="9.74" fill="#e5f5f9"/>
<rect x="125.91" y="439.3" width="6.33" height="9.74" fill="#e5f5f9"/>
<rect x="138.57" y="439.3" width="3.17" height="9.74" fill="#99d8c9"/>
<rect x="148.06" y="439.3" width="6.33" height="9.74" fill="#f7fcfd"/>
<rect x="186.05" y="439.3" width="12.66" height="9.74" fill="#238b45"/>
<rect x="205.04" y="439.3" width="3.17" height="9.74" fill="#ccece6"/>
<rect x="211.37" y="439.3" width="3.57" height="9.74" fill="#41ae76"/>
<rect x="214.53" y="439.3" width="3.57" height="9.74" fill="#66c2a4"/>
<rect x="217.7" y="439.3" width="3.57" height="9.74" fill="#ccece6"/>
<rect x="220.86" y="439.3" width="3.57" height="9.74" fill="#99d8c9"/>
<rect x="224.03" y="439.3" width="3.17" height="9.74" fill="#ccece6"/>
<rect x="233.52" y="439.3" width="6.73" height="9.74" fill="#99d8c9"/>
<rect x="239.85" y="439.3" width="6.33" height="9.74" fill="#e5f5f9"/>
<rect x="277.84" y="439.3" width="16.23" height="9.74" fill="#006d2c"/>
<rect x="293.66" y="439.3" width="9.9" height="9.74" fill="#66c2a4"/>
<rect x="303.16" y="439.3" width="3.57" height="9.74" fill="#238b45"/>
<rect x="306.33" y="439.3" width="3.57" height="9.74" fill="#41ae76"/>
<rect x="309.49" y="439.3" width="3.57" height="9.74" fill="#66c2a4"/>
<rect x="312.66" y="439.3" width="19.39" height="9.74" fill="#99d8c9"/>
<rect x="331.65" y="439.3" width="13.06" height="9.74" fill="#ccece6"/>
<rect x="344.31" y="439.3" width="3.17" height="9.74" fill="#99d8c9"/>
<rect x="84.76" y="448.74" width="3.17" height="9.74" fill="#f7fcfd"/>
<rect x="186.05" y="448.74" width="9.9" height="9.74" fill="#ccece6"/>
<rect x="195.54" y="448.74" width="3.17" height="9.74" fill="#e5f5f9"/>
<rect x="211.37" y="448.74" width="3.17" height="9.74" fill="#f7fcfd"/>
<rect x="220.86" y="448.74" width="6.33" height="9.74" fill="#ccece6"/>
<rect x="277.84" y="448.74" width="3.57" height="9.74" fill="#41ae76"/>
<rect x="281" y="448.74" width="6.73" height="9.74" fill="#238b45"/>
<rect x="287.33" y="448.74" width="6.73" height="9.74" fill="#e5f5f9"/>
<rect x="293.66" y="448.74" width="6.73" height="9.74" fill="#ccece6"/>
<rect x="299.99" y="448.74" width="3.57" height="9.74" fill="#99d8c9"/>
<rect x="303.16" y="448.74" width="3.57" height="9.74" fill="#66c2a4"/>
<rect x="306.33" y="448.74" width="3.57" height="9.74" fill="#99d8c9"/>
<rect x="309.49" y="448.74" width="3.57" height="9.74" fill="#41ae76"/>
<rect x="312.66" y="448.74" width="3.57" height="9.74" fill="#ccece6"/>
<rect x="315.82" y="448.74" width="31.65" height="9.74" fill="#f7fcfd"/>
<rect x="78.43" y="458.18" width="6.33" height="9.74" fill="#fde0dd"/>
<rect x="87.92" y="458.18" width="6.33" height="9.74" fill="#f7fcfd"/>
<rect x="119.57" y="458.18" width="3.17" height="9.74" fill="#fcc5c0"/>
<rect x="125.91" y="458.18" width="6.33" height="9.74" fill="#fcc5c0"/>
<rect x="135.4" y="458.18" width="9.5" height="9.74" fill="#fde0dd"/>
<rect x="189.21" y="458.18" width="9.9" height="9.74" fill="#fde0dd"/>
<rect x="198.71" y="458.18" width="6.73" height="9.74" fill="#fcc5c0"/>
<rect x="205.04" y="458.18" width="6.33" height="9.74" fill="#fa9fb5"/>
<rect x="224.03" y="458.18" width="6.33" height="9.74" fill="#fcc5c0"/>
<rect x="287.33" y="458.18" width="19.39" height="9.74" fill="#fde0dd"/>
<rect x="306.33" y="458.18" width="12.66" height="9.74" fill="#fcc5c0"/>
<rect x="84.76" y="467.62" width="9.5" height="9.74" fill="#f7fcfd"/>
<rect x="173.38" y="467.62" width="3.57" height="9.74" fill="#006d2c"/>
<rect x="176.55" y="467.62" width="9.9" height="9.74" fill="#238b45"/>
<rect x="186.05" y="467.62" width="6.73" height="9.74" fill="#000000"/>
<rect x="192.38" y="467.62" width="3.57" height="9.74" fill="#00441b"/>
<rect x="195.54" y="467.62" width="3.57" height="9.74" fill="#000000"/>
<rect x="198.71" y="467.62" width="6.73" height="9.74" fill="#41ae76"/>
<rect x="205.04" y="467.62" width="6.73" height="9.74" fill="#99d8c9"/>
<rect x="211.37" y="467.62" width="9.9" height="9.74" fill="#238b45"/>
<rect x="220.86" y="467.62" width="3.57" height="9.74" fill="#000000"/>
<rect x="224.03" y="467.62" width="9.9" height="9.74" fill="#238b45"/>
<rect x="233.52" y="467.62" width="6.73" height="9.74" fill="#66c2a4"/>
<rect x="239.85" y="467.62" width="9.9" height="9.74" fill="#99d8c9"/>
<rect x="249.35" y="467.62" width="3.17" height="9.74" fill="#f7fcfd"/>
<rect x="274.67" y="467.62" width="6.73" height="9.74" fill="#006d2c"/>
<rect x="281" y="467.62" width="3.57" height="9.74" fill="#00441b"/>
<rect x="284.17" y="467.62" width="9.9" height="9.74" fill="#006d2c"/>
<rect x="293.66" y="467.62" width="6.73" height="9.74" fill="#66c2a4"/>
<rect x="299.99" y="467.62" width="3.57" height="9.74" fill="#41ae76"/>
<rect x="303.16" y="467.62" width="3.57" height="9.74" fill="#238b45"/>
<rect x="306.33" y="467.62" width="6.73" height="9.74" fill="#41ae76"/>
<rect x="312.66" y="467.62" width="19.39" height="9.74" fill="#99d8c9"/>
<rect x="331.65" y="467.62" width="13.06" height="9.74" fill="#ccece6"/>
<rect x="344.31" y="467.62" width="3.17" height="9.74" fill="#99d8c9"/>
<rect x="84.76" y="477.06" width="3.17" height="9.74" fill="#f7fcfd"/>
<rect x="189.21" y="477.06" width="6.33" height="9.74" fill="#ccece6"/>
<rect x="211.37" y="477.06" width="6.73" height="9.74" fill="#99d8c9"/>
<rect x="217.7" y="477.06" width="3.57" height="9.74" fill="#ccece6"/>
<rect x="220.86" y="477.06" width="3.57" height="9.74" fill="#99d8c9"/>
<rect x="224.03" y="477.06" width="3.17" height="9.74" fill="#66c2a4"/>
<rect x="293.66" y="477.06" width="53.81" height="9.74" fill="#f7fcfd"/>
<rect x="106.91" y="486.5" width="3.57" height="9.74" fill="#fde0dd"/>
<rect x="110.08" y="486.5" width="6.73" height="9.74" fill="#fcc5c0"/>
<rect x="116.41" y="486.5" width="6.73" height="9.74" fill="#7a0177"/>
<rect x="122.74" y="486.5" width="9.9" height="9.74" fill="#ae017e"/>
<rect x="132.24" y="486.5" width="3.57" height="9.74" fill="#fcc5c0"/>
<rect x="135.4" y="486.5" width="3.57" height="9.74" fill="#fa9fb5"/>
<rect x="138.57" y="486.5" width="6.33" height="9.74" fill="#fcc5c0"/>
<rect x="148.06" y="486.5" width="6.33" height="9.74" fill="#fde0dd"/>
<rect x="189.21" y="486.5" width="3.57" height="9.74" fill="#fde0dd"/>
<rect x="192.38" y="486.5" width="3.57" height="9.74" fill="#f768a1"/>
<rect x="195.54" y="486.5" width="3.57" height="9.74" fill="#fcc5c0"/>
<rect x="198.71" y="486.5" width="6.73" height="9.74" fill="#dd3497"/>
<rect x="205.04" y="486.5" width="3.57" height="9.74" fill="#7a0177"/>
<rect x="208.2" y="486.5" width="3.57" height="9.74" fill="#49006a"/>
<rect x="211.37" y="486.5" width="9.9" height="9.74" fill="#7a0177"/>
<rect x="220.86" y="486.5" width="3.57" height="9.74" fill="#fcc5c0"/>
<rect x="224.03" y="486.5" width="6.73" height="9.74" fill="#7a0177"/>
<rect x="230.36" y="486.5" width="3.57" height="9.74" fill="#49006a"/>
<rect x="233.52" y="486.5" width="6.73" height="9.74" fill="#fcc5c0"/>
<rect x="239.85" y="486.5" width="3.57" height="9.74" fill="#dd3497"/>
<rect x="243.02" y="486.5" width="3.57" height="9.74" fill="#fcc5c0"/>
<rect x="246.19" y="486.5" width="3.17" height="9.74" fill="#fde0dd"/>
<rect x="290.5" y="486.5" width="9.5" height="9.74" fill="#fde0dd"/>
<rect x="306.33" y="486.5" width="12.66" height="9.74" fill="#fde0dd"/>
<rect x="173.38" y="495.94" width="9.9" height="9.74" fill="#66c2a4"/>
<rect x="182.88" y="495.94" width="3.57" height="9.74" fill="#99d8c9"/>
<rect x="186.05" y="495.94" width="3.57" height="9.74" fill="#000000"/>
<rect x="189.21" y="495.94" width="9.9" height="9.74" fill="#006d2c"/>
<rect x="198.71" y="495.94" width="13.06" height="9.74" fill="#f7fcfd"/>
<rect x="211.37" y="495.94" width="6.73" height="9.74" fill="#ccece6"/>
<rect x="217.7" y="495.94" width="3.57" height="9.74" fill="#006d2c"/>
<rect x="220.86" y="495.94" width="3.57" height="9.74" fill="#000000"/>
<rect x="224.03" y="495.94" width="6.73" height="9.74" fill="#238b45"/>
<rect x="230.36" y="495.94" width="9.9" height="9.74" fill="#006d2c"/>
<rect x="239.85" y="495.94" width="9.5" height="9.74" fill="#99d8c9"/>
<rect x="331.65" y="495.94" width="13.06" height="9.74" fill="#f7fcfd"/>
<rect x="344.31" y="495.94" width="3.17" height="9.74" fill="#99d8c9"/>
<rect x="173.38" y="505.38" width="6.73" height="9.74" fill="#e5f5f9"/>
<rect x="179.71" y="505.38" width="3.57" height="9.74" fill="#fa9fb5"/>
<rect x="182.88" y="505.38" width="3.57" height="9.74" fill="#ccece6"/>
<rect x="186.05" y="505.38" width="3.57" height="9.74" fill="#99d8c9"/>
<rect x="189.21" y="505.38" width="6.73" height="9.74" fill="#ccece6"/>
<rect x="195.54" y="505.38" width="9.5" height="9.74" fill="#e5f5f9"/>
<rect x="312.66" y="505.38" width="34.82" height="9.74" fill="#f7fcfd"/>
<rect x="84.76" y="514.82" width="6.33" height="9.74" fill="#f7fcfd"/>
<rect x="179.71" y="514.82" width="3.17" height="9.74" fill="#dd3497"/>
<rect x="205.04" y="514.82" width="6.33" height="9.74" fill="#ccece6"/>
<rect x="78.43" y="524.26" width="6.33" height="9.74" fill="#e5f5f9"/>
<rect x="94.25" y="524.26" width="3.57" height="9.74" fill="#99d8c9"/>
<rect x="97.42" y="524.26" width="6.73" height="9.74" fill="#41ae76"/>
<rect x="103.75" y="524.26" width="3.57" height="9.74" fill="#006d2c"/>
<rect x="106.91" y="524.26" width="25.72" height="9.74" fill="#000000"/>
<rect x="132.24" y="524.26" width="6.73" height="9.74" fill="#00441b"/>
<rect x="138.57" y="524.26" width="6.73" height="9.74" fill="#000000"/>
<rect x="144.9" y="524.26" width="3.57" height="9.74" fill="#00441b"/>
<rect x="148.06" y="524.26" width="6.73" height="9.74" fill="#006d2c"/>
<rect x="154.39" y="524.26" width="3.17" height="9.74" fill="#00441b"/>
<rect x="214.53" y="524.26" width="3.57" height="9.74" fill="#ccece6"/>
<rect x="217.7" y="524.26" width="6.73" height="9.74" fill="#99d8c9"/>
<rect x="224.03" y="524.26" width="6.73" height="9.74" fill="#00441b"/>
<rect x="230.36" y="524.26" width="3.57" height="9.74" fill="#000000"/>
<rect x="233.52" y="524.26" width="16.23" height="9.74" fill="#00441b"/>
<rect x="249.35" y="524.26" width="3.17" height="9.74" fill="#006d2c"/>
<rect x="268.34" y="524.26" width="15.83" height="9.74" fill="#e5f5f9"/>
<rect x="299.99" y="524.26" width="6.73" height="9.74" fill="#e5f5f9"/>
<rect x="306.33" y="524.26" width="3.57" height="9.74" fill="#ccece6"/>
<rect x="309.49" y="524.26" width="6.73" height="9.74" fill="#99d8c9"/>
<rect x="315.82" y="524.26" width="9.5" height="9.74" fill="#e5f5f9"/>
<rect x="91.09" y="533.7" width="9.9" height="9.74" fill="#006d2c"/>
<rect x="100.58" y="533.7" width="3.57" height="9.74" fill="#00441b"/>
<rect x="103.75" y="533.7" width="28.89" height="9.74" fill="#000000"/>
<rect x="132.24" y="533.7" width="9.9" height="9.74" fill="#00441b"/>
<rect x="141.73" y="533.7" width="3.57" height="9.74" fill="#238b45"/>
<rect x="144.9" y="533.7" width="3.57" height="9.74" fill="#ccece6"/>
<rect x="148.06" y="533.7" width="6.33" height="9.74" fill="#238b45"/>
<rect x="173.38" y="533.7" width="9.5" height="9.74" fill="#66c2a4"/>
<rect x="198.71" y="533.7" width="6.73" height="9.74" fill="#e5f5f9"/>
<rect x="205.04" y="533.7" width="19.39" height="9.74" fill="#ccece6"/>
<rect x="224.03" y="533.7" width="3.57" height="9.74" fill="#006d2c"/>
<rect x="227.19" y="533.7" width="3.57" height="9.74" fill="#238b45"/>
<rect x="230.36" y="533.7" width="3.57" height="9.74" fill="#00441b"/>
<rect x="233.52" y="533.7" width="13.06" height="9.74" fill="#41ae76"/>
<rect x="246.19" y="533.7" width="6.33" height="9.74" fill="#e5f5f9"/>
<rect x="268.34" y="533.7" width="3.57" height="9.74" fill="#000000"/>
<rect x="271.51" y="533.7" width="3.57" height="9.74" fill="#00441b"/>
<rect x="274.67" y="533.7" width="9.9" height="9.74" fill="#000000"/>
<rect x="284.17" y="533.7" width="3.57" height="9.74" fill="#006d2c"/>
<rect x="287.33" y="533.7" width="6.73" height="9.74" fill="#000000"/>
<rect x="293.66" y="533.7" width="6.73" height="9.74" fill="#00441b"/>
<rect x="299.99" y="533.7" width="6.73" height="9.74" fill="#e5f5f9"/>
<rect x="306.33" y="533.7" width="3.57" height="9.74" fill="#99d8c9"/>
<rect x="309.49" y="533.7" width="3.57" height="9.74" fill="#ccece6"/>
<rect x="312.66" y="533.7" width="3.57" height="9.74" fill="#99d8c9"/>
<rect x="315.82" y="533.7" width="6.33" height="9.74" fill="#f7fcfd"/>
<rect x="268.34" y="543.14" width="3.17" height="9.74" fill="#e5f5f9"/>
<rect x="87.92" y="552.58" width="3.57" height="9.74" fill="#ccece6"/>
<rect x="91.09" y="552.58" width="3.17" height="9.74" fill="#f7fcfd"/>
<rect x="100.58" y="552.58" width="3.17" height="9.74" fill="#e5f5f9"/>
<rect x="106.91" y="552.58" width="3.57" height="9.74" fill="#e5f5f9"/>
<rect x="110.08" y="552.58" width="6.73" height="9.74" fill="#41ae76"/>
<rect x="116.41" y="552.58" width="3.57" height="9.74" fill="#00441b"/>
<rect x="119.57" y="552.58" width="3.57" height="9.74" fill="#000000"/>
<rect x="122.74" y="552.58" width="3.57" height="9.74" fill="#006d2c"/>
<rect x="125.91" y="552.58" width="3.57" height="9.74" fill="#238b45"/>
<rect x="129.07" y="552.58" width="3.57" height="9.74" fill="#41ae76"/>
<rect x="132.24" y="552.58" width="9.9" height="9.74" fill="#238b45"/>
<rect x="141.73" y="552.58" width="12.66" height="9.74" fill="#41ae76"/>
<rect x="173.38" y="552.58" width="9.9" height="9.74" fill="#238b45"/>
<rect x="182.88" y="552.58" width="6.73" height="9.74" fill="#41ae76"/>
<rect x="189.21" y="552.58" width="3.17" height="9.74" fill="#e5f5f9"/>
<rect x="224.03" y="552.58" width="6.73" height="9.74" fill="#e5f5f9"/>
<rect x="230.36" y="552.58" width="9.9" height="9.74" fill="#41ae76"/>
<rect x="239.85" y="552.58" width="3.57" height="9.74" fill="#238b45"/>
<rect x="243.02" y="552.58" width="6.73" height="9.74" fill="#41ae76"/>
<rect x="249.35" y="552.58" width="3.17" height="9.74" fill="#66c2a4"/>
<rect x="268.34" y="552.58" width="6.73" height="9.74" fill="#238b45"/>
<rect x="274.67" y="552.58" width="3.57" height="9.74" fill="#41ae76"/>
<rect x="277.84" y="552.58" width="6.73" height="9.74" fill="#238b45"/>
<rect x="284.17" y="552.58" width="3.57" height="9.74" fill="#41ae76"/>
<rect x="287.33" y="552.58" width="6.73" height="9.74" fill="#006d2c"/>
<rect x="293.66" y="552.58" width="19.39" height="9.74" fill="#238b45"/>
<rect x="312.66" y="552.58" width="3.57" height="9.74" fill="#41ae76"/>
<rect x="315.82" y="552.58" width="13.06" height="9.74" fill="#ccece6"/>
<rect x="328.48" y="552.58" width="3.57" height="9.74" fill="#e5f5f9"/>
<rect x="331.65" y="552.58" width="15.83" height="9.74" fill="#f7fcfd"/>
<rect x="94.25" y="562.02" width="6.73" height="9.74" fill="#fa9fb5"/>
<rect x="100.58" y="562.02" width="3.57" height="9.74" fill="#fde0dd"/>
<rect x="103.75" y="562.02" width="44.71" height="9.74" fill="#49006a"/>
<rect x="148.06" y="562.02" width="9.5" height="9.74" fill="#7a0177"/>
<rect x="198.71" y="562.02" width="3.17" height="9.74" fill="#fde0dd"/>
<rect x="205.04" y="562.02" width="9.9" height="9.74" fill="#fcc5c0"/>
<rect x="214.53" y="562.02" width="3.57" height="9.74" fill="#fa9fb5"/>
<rect x="217.7" y="562.02" width="6.73" height="9.74" fill="#fcc5c0"/>
<rect x="224.03" y="562.02" width="6.73" height="9.74" fill="#f768a1"/>
<rect x="230.36" y="562.02" width="3.57" height="9.74" fill="#dd3497"/>
<rect x="233.52" y="562.02" width="6.73" height="9.74" fill="#fcc5c0"/>
<rect x="239.85" y="562.02" width="6.73" height="9.74" fill="#ae017e"/>
<rect x="246.19" y="562.02" width="3.17" height="9.74" fill="#fcc5c0"/>
<rect x="277.84" y="562.02" width="6.33" height="9.74" fill="#f768a1"/>
<rect x="287.33" y="562.02" width="9.9" height="9.74" fill="#f768a1"/>
<rect x="296.83" y="562.02" width="3.57" height="9.74" fill="#fa9fb5"/>
<rect x="299.99" y="562.02" width="6.73" height="9.74" fill="#fde0dd"/>
<rect x="306.33" y="562.02" width="3.57" height="9.74" fill="#f768a1"/>
<rect x="309.49" y="562.02" width="6.73" height="9.74" fill="#fa9fb5"/>
<rect x="315.82" y="562.02" width="3.57" height="9.74" fill="#fde0dd"/>
<rect x="318.99" y="562.02" width="6.33" height="9.74" fill="#fa9fb5"/>
<rect x="331.65" y="562.02" width="3.17" height="9.74" fill="#fde0dd"/>
<rect x="110.08" y="571.46" width="6.73" height="9.44" fill="#e5f5f9"/>
<rect x="116.41" y="571.46" width="6.73" height="9.44" fill="#fcc5c0"/>
<rect x="122.74" y="571.46" width="3.57" height="9.44" fill="#fa9fb5"/>
<rect x="125.91" y="571.46" width="6.73" height="9.44" fill="#7a0177"/>
<rect x="132.24" y="571.46" width="6.73" height="9.44" fill="#fcc5c0"/>
<rect x="138.57" y="571.46" width="16.23" height="9.44" fill="#49006a"/>
<rect x="154.39" y="571.46" width="3.17" height="9.44" fill="#dd3497"/>
<rect x="192.38" y="571.46" width="6.73" height="9.44" fill="#fcc5c0"/>
<rect x="198.71" y="571.46" width="6.73" height="9.44" fill="#dd3497"/>
<rect x="205.04" y="571.46" width="3.57" height="9.44" fill="#ae017e"/>
<rect x="208.2" y="571.46" width="3.57" height="9.44" fill="#7a0177"/>
<rect x="211.37" y="571.46" width="13.06" height="9.44" fill="#ae017e"/>
<rect x="224.03" y="571.46" width="6.73" height="9.44" fill="#49006a"/>
<rect x="230.36" y="571.46" width="3.57" height="9.44" fill="#ae017e"/>
<rect x="233.52" y="571.46" width="6.73" height="9.44" fill="#dd3497"/>
<rect x="239.85" y="571.46" width="6.73" height="9.44" fill="#7a0177"/>
<rect x="246.19" y="571.46" width="3.57" height="9.44" fill="#dd3497"/>
<rect x="249.35" y="571.46" width="3.17" height="9.44" fill="#fa9fb5"/>
<rect x="62.6" y="439.3" width="300.7" height="141.6" fill="none" stroke="#2e2e2e" stroke-width="0.95"/>
<path d="M58.6 444.02H62.6" stroke="#222" stroke-width="0.8"/>
<text transform="translate(55.1 447.52) scale(0.94 1)" text-anchor="end" class="rl">Tmin</text>
<path d="M58.6 453.46H62.6" stroke="#222" stroke-width="0.8"/>
<text transform="translate(55.1 456.96) scale(0.94 1)" text-anchor="end" class="rl">Tmean</text>
<path d="M58.6 462.9H62.6" stroke="#222" stroke-width="0.8"/>
<text transform="translate(55.1 466.4) scale(0.94 1)" text-anchor="end" class="rl">Tmax</text>
<path d="M58.6 472.34H62.6" stroke="#222" stroke-width="0.8"/>
<text transform="translate(55.1 475.84) scale(0.94 1)" text-anchor="end" class="rl">LSTmin</text>
<path d="M58.6 481.78H62.6" stroke="#222" stroke-width="0.8"/>
<text transform="translate(55.1 485.28) scale(0.94 1)" text-anchor="end" class="rl">LSTmean</text>
<path d="M58.6 491.22H62.6" stroke="#222" stroke-width="0.8"/>
<text transform="translate(55.1 494.72) scale(0.94 1)" text-anchor="end" class="rl">LSTmax</text>
<path d="M58.6 500.66H62.6" stroke="#222" stroke-width="0.8"/>
<text transform="translate(55.1 504.16) scale(0.94 1)" text-anchor="end" class="rl">STmin</text>
<path d="M58.6 510.1H62.6" stroke="#222" stroke-width="0.8"/>
<text transform="translate(55.1 513.6) scale(0.94 1)" text-anchor="end" class="rl">STmean</text>
<path d="M58.6 519.54H62.6" stroke="#222" stroke-width="0.8"/>
<text transform="translate(55.1 523.04) scale(0.94 1)" text-anchor="end" class="rl">STmax</text>
<path d="M58.6 528.98H62.6" stroke="#222" stroke-width="0.8"/>
<text transform="translate(55.1 532.48) scale(0.94 1)" text-anchor="end" class="rl">rHmin</text>
<path d="M58.6 538.42H62.6" stroke="#222" stroke-width="0.8"/>
<text transform="translate(55.1 541.92) scale(0.94 1)" text-anchor="end" class="rl">rHmean</text>
<path d="M58.6 547.86H62.6" stroke="#222" stroke-width="0.8"/>
<text transform="translate(55.1 551.36) scale(0.94 1)" text-anchor="end" class="rl">rHmax</text>
<path d="M58.6 557.3H62.6" stroke="#222" stroke-width="0.8"/>
<text transform="translate(55.1 560.8) scale(0.94 1)" text-anchor="end" class="rl">Ptot</text>
<path d="M58.6 566.74H62.6" stroke="#222" stroke-width="0.8"/>
<text transform="translate(55.1 570.24) scale(0.94 1)" text-anchor="end" class="rl">Radmean</text>
<path d="M58.6 576.18H62.6" stroke="#222" stroke-width="0.8"/>
<text transform="translate(55.1 579.68) scale(0.94 1)" text-anchor="end" class="rl">Radmax</text>
<path d="M81.59 580.9V584.9" stroke="#222" stroke-width="0.8"/>
<text transform="translate(90.89 590.2) rotate(-45) scale(0.9 1)" text-anchor="end" class="tl">04/05</text>
<path d="M119.57 580.9V584.9" stroke="#222" stroke-width="0.8"/>
<text transform="translate(128.87 590.2) rotate(-45) scale(0.9 1)" text-anchor="end" class="tl">06/07</text>
<path d="M154.39 580.9V584.9" stroke="#222" stroke-width="0.8"/>
<text transform="translate(163.69 590.2) rotate(-45) scale(0.9 1)" text-anchor="end" class="tl">08/09</text>
<text transform="translate(114.83 614.6)" text-anchor="middle" class="yl">2012</text>
<path d="M176.55 580.9V584.9" stroke="#222" stroke-width="0.8"/>
<text transform="translate(185.85 590.2) rotate(-45) scale(0.9 1)" text-anchor="end" class="tl">04/05</text>
<path d="M214.53 580.9V584.9" stroke="#222" stroke-width="0.8"/>
<text transform="translate(223.83 590.2) rotate(-45) scale(0.9 1)" text-anchor="end" class="tl">06/07</text>
<path d="M249.35 580.9V584.9" stroke="#222" stroke-width="0.8"/>
<text transform="translate(258.65 590.2) rotate(-45) scale(0.9 1)" text-anchor="end" class="tl">08/09</text>
<text transform="translate(209.78 614.6)" text-anchor="middle" class="yl">2013</text>
<path d="M271.51 580.9V584.9" stroke="#222" stroke-width="0.8"/>
<text transform="translate(280.81 590.2) rotate(-45) scale(0.9 1)" text-anchor="end" class="tl">04/05</text>
<path d="M309.49 580.9V584.9" stroke="#222" stroke-width="0.8"/>
<text transform="translate(318.79 590.2) rotate(-45) scale(0.9 1)" text-anchor="end" class="tl">06/07</text>
<path d="M344.31 580.9V584.9" stroke="#222" stroke-width="0.8"/>
<text transform="translate(353.61 590.2) rotate(-45) scale(0.9 1)" text-anchor="end" class="tl">08/09</text>
<text transform="translate(310.44 614.6)" text-anchor="middle" class="yl">2014</text>
<use href="#h" x="406.4" y="439.3"/>
<use href="#h" x="501.36" y="439.3"/>
<use href="#h" x="596.32" y="439.3"/>
<use href="#h" x="691.27" y="439.3"/>
<rect x="422.23" y="439.3" width="6.33" height="9.74" fill="#fcc5c0"/>
<rect x="463.37" y="439.3" width="3.57" height="9.74" fill="#fde0dd"/>
<rect x="466.54" y="439.3" width="3.57" height="9.74" fill="#fcc5c0"/>
<rect x="469.71" y="439.3" width="25.32" height="9.74" fill="#fde0dd"/>
<rect x="523.51" y="439.3" width="13.06" height="9.74" fill="#fa9fb5"/>
<rect x="536.18" y="439.3" width="3.57" height="9.74" fill="#fde0dd"/>
<rect x="539.34" y="439.3" width="6.73" height="9.74" fill="#fa9fb5"/>
<rect x="545.67" y="439.3" width="6.73" height="9.74" fill="#f768a1"/>
<rect x="552" y="439.3" width="6.73" height="9.74" fill="#fa9fb5"/>
<rect x="558.33" y="439.3" width="3.17" height="9.74" fill="#fcc5c0"/>
<rect x="577.32" y="439.3" width="3.17" height="9.74" fill="#fde0dd"/>
<rect x="612.14" y="439.3" width="3.17" height="9.74" fill="#fde0dd"/>
<rect x="634.3" y="439.3" width="13.06" height="9.74" fill="#fde0dd"/>
<rect x="646.96" y="439.3" width="3.57" height="9.74" fill="#fa9fb5"/>
<rect x="650.13" y="439.3" width="3.57" height="9.74" fill="#f768a1"/>
<rect x="653.29" y="439.3" width="13.06" height="9.74" fill="#dd3497"/>
<rect x="665.95" y="439.3" width="3.17" height="9.74" fill="#fde0dd"/>
<rect x="463.37" y="448.74" width="3.17" height="9.74" fill="#fde0dd"/>
<rect x="466.54" y="458.18" width="28.89" height="9.74" fill="#f7fcfd"/>
<rect x="495.03" y="458.18" width="6.33" height="9.74" fill="#e5f5f9"/>
<rect x="520.35" y="458.18" width="6.33" height="9.74" fill="#f7fcfd"/>
<rect x="580.49" y="458.18" width="6.33" height="9.74" fill="#e5f5f9"/>
<rect x="589.99" y="458.18" width="6.33" height="9.74" fill="#238b45"/>
<rect x="618.47" y="458.18" width="3.57" height="9.74" fill="#99d8c9"/>
<rect x="621.64" y="458.18" width="3.57" height="9.74" fill="#ccece6"/>
<rect x="624.8" y="458.18" width="3.57" height="9.74" fill="#99d8c9"/>
<rect x="627.97" y="458.18" width="12.66" height="9.74" fill="#f7fcfd"/>
<rect x="422.23" y="467.62" width="3.57" height="9.74" fill="#fde0dd"/>
<rect x="425.39" y="467.62" width="3.17" height="9.74" fill="#fa9fb5"/>
<rect x="457.04" y="467.62" width="9.9" height="9.74" fill="#fde0dd"/>
<rect x="466.54" y="467.62" width="3.57" height="9.74" fill="#ae017e"/>
<rect x="469.71" y="467.62" width="3.57" height="9.74" fill="#fcc5c0"/>
<rect x="472.87" y="467.62" width="6.73" height="9.74" fill="#fde0dd"/>
<rect x="479.2" y="467.62" width="3.57" height="9.74" fill="#fcc5c0"/>
<rect x="482.37" y="467.62" width="3.57" height="9.74" fill="#dd3497"/>
<rect x="485.53" y="467.62" width="3.57" height="9.74" fill="#ae017e"/>
<rect x="488.7" y="467.62" width="6.73" height="9.74" fill="#dd3497"/>
<rect x="495.03" y="467.62" width="6.33" height="9.74" fill="#fcc5c0"/>
<rect x="552" y="467.62" width="6.33" height="9.74" fill="#fde0dd"/>
<rect x="488.7" y="477.06" width="12.66" height="9.74" fill="#f7fcfd"/>
<rect x="662.79" y="477.06" width="3.17" height="9.74" fill="#fde0dd"/>
<rect x="552" y="486.5" width="12.66" height="9.74" fill="#f7fcfd"/>
<rect x="615.31" y="486.5" width="25.32" height="9.74" fill="#f7fcfd"/>
<rect x="634.3" y="495.94" width="34.82" height="9.74" fill="#fde0dd"/>
<rect x="634.3" y="505.38" width="34.82" height="9.74" fill="#fde0dd"/>
<rect x="431.72" y="514.82" width="6.33" height="9.74" fill="#fde0dd"/>
<rect x="422.23" y="524.26" width="3.17" height="9.74" fill="#fde0dd"/>
<rect x="428.56" y="524.26" width="3.17" height="9.74" fill="#dd3497"/>
<rect x="438.05" y="524.26" width="9.5" height="9.74" fill="#fde0dd"/>
<rect x="453.88" y="524.26" width="6.73" height="9.74" fill="#fde0dd"/>
<rect x="460.21" y="524.26" width="6.73" height="9.74" fill="#fa9fb5"/>
<rect x="466.54" y="524.26" width="6.73" height="9.74" fill="#fde0dd"/>
<rect x="472.87" y="524.26" width="3.57" height="9.74" fill="#fcc5c0"/>
<rect x="476.04" y="524.26" width="3.17" height="9.74" fill="#fde0dd"/>
<rect x="485.53" y="524.26" width="9.5" height="9.74" fill="#fa9fb5"/>
<rect x="552" y="524.26" width="15.83" height="9.74" fill="#fde0dd"/>
<rect x="574.16" y="524.26" width="3.57" height="9.74" fill="#dd3497"/>
<rect x="577.32" y="524.26" width="3.57" height="9.74" fill="#f768a1"/>
<rect x="580.49" y="524.26" width="15.83" height="9.74" fill="#49006a"/>
<rect x="634.3" y="524.26" width="22.56" height="9.74" fill="#f768a1"/>
<rect x="656.46" y="524.26" width="9.9" height="9.74" fill="#fa9fb5"/>
<rect x="665.95" y="524.26" width="3.57" height="9.74" fill="#dd3497"/>
<rect x="669.12" y="524.26" width="3.17" height="9.74" fill="#fde0dd"/>
<rect x="453.88" y="533.7" width="3.57" height="9.74" fill="#fde0dd"/>
<rect x="457.04" y="533.7" width="3.57" height="9.74" fill="#f768a1"/>
<rect x="460.21" y="533.7" width="6.73" height="9.74" fill="#dd3497"/>
<rect x="466.54" y="533.7" width="6.73" height="9.74" fill="#f768a1"/>
<rect x="472.87" y="533.7" width="3.57" height="9.74" fill="#dd3497"/>
<rect x="476.04" y="533.7" width="3.57" height="9.74" fill="#f768a1"/>
<rect x="479.2" y="533.7" width="16.23" height="9.74" fill="#dd3497"/>
<rect x="495.03" y="533.7" width="6.33" height="9.74" fill="#fcc5c0"/>
<rect x="517.18" y="533.7" width="9.9" height="9.74" fill="#fcc5c0"/>
<rect x="526.68" y="533.7" width="3.57" height="9.74" fill="#fa9fb5"/>
<rect x="529.85" y="533.7" width="9.9" height="9.74" fill="#fde0dd"/>
<rect x="539.34" y="533.7" width="6.33" height="9.74" fill="#fcc5c0"/>
<rect x="564.66" y="533.7" width="9.9" height="9.74" fill="#fde0dd"/>
<rect x="574.16" y="533.7" width="6.73" height="9.74" fill="#fa9fb5"/>
<rect x="580.49" y="533.7" width="15.83" height="9.74" fill="#49006a"/>
<rect x="634.3" y="533.7" width="6.73" height="9.74" fill="#7a0177"/>
<rect x="640.63" y="533.7" width="3.17" height="9.74" fill="#dd3497"/>
<rect x="669.12" y="533.7" width="3.17" height="9.74" fill="#fde0dd"/>
<rect x="425.39" y="543.14" width="3.57" height="9.74" fill="#fde0dd"/>
<rect x="428.56" y="543.14" width="3.57" height="9.74" fill="#fcc5c0"/>
<rect x="431.72" y="543.14" width="6.73" height="9.74" fill="#ae017e"/>
<rect x="438.05" y="543.14" width="3.57" height="9.74" fill="#7a0177"/>
<rect x="441.22" y="543.14" width="6.73" height="9.74" fill="#dd3497"/>
<rect x="447.55" y="543.14" width="3.57" height="9.74" fill="#ae017e"/>
<rect x="450.71" y="543.14" width="6.73" height="9.74" fill="#7a0177"/>
<rect x="457.04" y="543.14" width="19.39" height="9.74" fill="#49006a"/>
<rect x="476.04" y="543.14" width="3.57" height="9.74" fill="#fa9fb5"/>
<rect x="479.2" y="543.14" width="3.57" height="9.74" fill="#dd3497"/>
<rect x="482.37" y="543.14" width="6.73" height="9.74" fill="#fcc5c0"/>
<rect x="488.7" y="543.14" width="3.17" height="9.74" fill="#fa9fb5"/>
<rect x="517.18" y="543.14" width="6.73" height="9.74" fill="#fcc5c0"/>
<rect x="523.51" y="543.14" width="3.17" height="9.74" fill="#dd3497"/>
<rect x="542.51" y="543.14" width="6.33" height="9.74" fill="#f7fcfd"/>
<rect x="552" y="543.14" width="13.06" height="9.74" fill="#fcc5c0"/>
<rect x="564.66" y="543.14" width="6.33" height="9.74" fill="#fde0dd"/>
<rect x="580.49" y="543.14" width="3.57" height="9.74" fill="#fde0dd"/>
<rect x="583.65" y="543.14" width="6.73" height="9.74" fill="#fcc5c0"/>
<rect x="589.99" y="543.14" width="6.33" height="9.74" fill="#fde0dd"/>
<rect x="618.47" y="543.14" width="6.33" height="9.74" fill="#f768a1"/>
<rect x="627.97" y="543.14" width="3.17" height="9.74" fill="#f768a1"/>
<rect x="634.3" y="543.14" width="6.73" height="9.74" fill="#dd3497"/>
<rect x="640.63" y="543.14" width="6.73" height="9.74" fill="#f768a1"/>
<rect x="646.96" y="543.14" width="6.33" height="9.74" fill="#fcc5c0"/>
<rect x="564.66" y="552.58" width="13.06" height="9.74" fill="#fde0dd"/>
<rect x="577.32" y="552.58" width="3.57" height="9.74" fill="#fcc5c0"/>
<rect x="580.49" y="552.58" width="9.9" height="9.74" fill="#fde0dd"/>
<rect x="589.99" y="552.58" width="3.57" height="9.74" fill="#fcc5c0"/>
<rect x="593.15" y="552.58" width="3.17" height="9.74" fill="#fde0dd"/>
<rect x="457.04" y="562.02" width="15.83" height="9.74" fill="#99d8c9"/>
<rect x="520.35" y="562.02" width="3.57" height="9.74" fill="#ccece6"/>
<rect x="523.51" y="562.02" width="3.57" height="9.74" fill="#e5f5f9"/>
<rect x="526.68" y="562.02" width="13.06" height="9.74" fill="#ccece6"/>
<rect x="539.34" y="562.02" width="3.57" height="9.74" fill="#99d8c9"/>
<rect x="542.51" y="562.02" width="6.33" height="9.74" fill="#f7fcfd"/>
<rect x="589.99" y="562.02" width="6.33" height="9.74" fill="#99d8c9"/>
<rect x="634.3" y="562.02" width="6.33" height="9.74" fill="#e5f5f9"/>
<rect x="662.79" y="562.02" width="3.57" height="9.74" fill="#e5f5f9"/>
<rect x="665.95" y="562.02" width="3.57" height="9.74" fill="#ccece6"/>
<rect x="669.12" y="562.02" width="3.57" height="9.74" fill="#66c2a4"/>
<rect x="672.28" y="562.02" width="3.57" height="9.74" fill="#e5f5f9"/>
<rect x="675.45" y="562.02" width="3.17" height="9.74" fill="#ccece6"/>
<rect x="552" y="571.46" width="9.5" height="9.44" fill="#f7fcfd"/>
<rect x="406.4" y="439.3" width="300.7" height="141.6" fill="none" stroke="#2e2e2e" stroke-width="0.95"/>
<path d="M402.4 444.02H406.4" stroke="#222" stroke-width="0.8"/>
<text transform="translate(398.9 447.52) scale(0.94 1)" text-anchor="end" class="rl">Tmin</text>
<path d="M402.4 453.46H406.4" stroke="#222" stroke-width="0.8"/>
<text transform="translate(398.9 456.96) scale(0.94 1)" text-anchor="end" class="rl">Tmean</text>
<path d="M402.4 462.9H406.4" stroke="#222" stroke-width="0.8"/>
<text transform="translate(398.9 466.4) scale(0.94 1)" text-anchor="end" class="rl">Tmax</text>
<path d="M402.4 472.34H406.4" stroke="#222" stroke-width="0.8"/>
<text transform="translate(398.9 475.84) scale(0.94 1)" text-anchor="end" class="rl">LSTmin</text>
<path d="M402.4 481.78H406.4" stroke="#222" stroke-width="0.8"/>
<text transform="translate(398.9 485.28) scale(0.94 1)" text-anchor="end" class="rl">LSTmean</text>
<path d="M402.4 491.22H406.4" stroke="#222" stroke-width="0.8"/>
<text transform="translate(398.9 494.72) scale(0.94 1)" text-anchor="end" class="rl">LSTmax</text>
<path d="M402.4 500.66H406.4" stroke="#222" stroke-width="0.8"/>
<text transform="translate(398.9 504.16) scale(0.94 1)" text-anchor="end" class="rl">STmin</text>
<path d="M402.4 510.1H406.4" stroke="#222" stroke-width="0.8"/>
<text transform="translate(398.9 513.6) scale(0.94 1)" text-anchor="end" class="rl">STmean</text>
<path d="M402.4 519.54H406.4" stroke="#222" stroke-width="0.8"/>
<text transform="translate(398.9 523.04) scale(0.94 1)" text-anchor="end" class="rl">STmax</text>
<path d="M402.4 528.98H406.4" stroke="#222" stroke-width="0.8"/>
<text transform="translate(398.9 532.48) scale(0.94 1)" text-anchor="end" class="rl">rHmin</text>
<path d="M402.4 538.42H406.4" stroke="#222" stroke-width="0.8"/>
<text transform="translate(398.9 541.92) scale(0.94 1)" text-anchor="end" class="rl">rHmean</text>
<path d="M402.4 547.86H406.4" stroke="#222" stroke-width="0.8"/>
<text transform="translate(398.9 551.36) scale(0.94 1)" text-anchor="end" class="rl">rHmax</text>
<path d="M402.4 557.3H406.4" stroke="#222" stroke-width="0.8"/>
<text transform="translate(398.9 560.8) scale(0.94 1)" text-anchor="end" class="rl">Ptot</text>
<path d="M402.4 566.74H406.4" stroke="#222" stroke-width="0.8"/>
<text transform="translate(398.9 570.24) scale(0.94 1)" text-anchor="end" class="rl">Radmean</text>
<path d="M402.4 576.18H406.4" stroke="#222" stroke-width="0.8"/>
<text transform="translate(398.9 579.68) scale(0.94 1)" text-anchor="end" class="rl">Radmax</text>
<path d="M425.39 580.9V584.9" stroke="#222" stroke-width="0.8"/>
<text transform="translate(434.69 590.2) rotate(-45) scale(0.9 1)" text-anchor="end" class="tl">04/05</text>
<path d="M463.37 580.9V584.9" stroke="#222" stroke-width="0.8"/>
<text transform="translate(472.67 590.2) rotate(-45) scale(0.9 1)" text-anchor="end" class="tl">06/07</text>
<path d="M498.19 580.9V584.9" stroke="#222" stroke-width="0.8"/>
<text transform="translate(507.49 590.2) rotate(-45) scale(0.9 1)" text-anchor="end" class="tl">08/09</text>
<text transform="translate(458.63 614.6)" text-anchor="middle" class="yl">2012</text>
<path d="M520.35 580.9V584.9" stroke="#222" stroke-width="0.8"/>
<text transform="translate(529.65 590.2) rotate(-45) scale(0.9 1)" text-anchor="end" class="tl">04/05</text>
<path d="M558.33 580.9V584.9" stroke="#222" stroke-width="0.8"/>
<text transform="translate(567.63 590.2) rotate(-45) scale(0.9 1)" text-anchor="end" class="tl">06/07</text>
<path d="M593.15 580.9V584.9" stroke="#222" stroke-width="0.8"/>
<text transform="translate(602.45 590.2) rotate(-45) scale(0.9 1)" text-anchor="end" class="tl">08/09</text>
<text transform="translate(553.58 614.6)" text-anchor="middle" class="yl">2013</text>
<path d="M615.31 580.9V584.9" stroke="#222" stroke-width="0.8"/>
<text transform="translate(624.61 590.2) rotate(-45) scale(0.9 1)" text-anchor="end" class="tl">04/05</text>
<path d="M653.29 580.9V584.9" stroke="#222" stroke-width="0.8"/>
<text transform="translate(662.59 590.2) rotate(-45) scale(0.9 1)" text-anchor="end" class="tl">06/07</text>
<path d="M688.11 580.9V584.9" stroke="#222" stroke-width="0.8"/>
<text transform="translate(697.41 590.2) rotate(-45) scale(0.9 1)" text-anchor="end" class="tl">08/09</text>
<text transform="translate(654.24 614.6)" text-anchor="middle" class="yl">2014</text>
<text transform="translate(66.6 638.7) scale(1.01 1)" class="lg">Fraction of trees with significant coincidence</text>
<text transform="translate(66.6 655.2) scale(1.03 1)" class="lg">between positive/negative SRV events and</text>
<text transform="translate(69.9 675.3) scale(1.21 1)" class="lh">positive</text>
<text transform="translate(124.7 675.3) scale(1.26 1)" class="lh">met.</text>
<text transform="translate(155.9 675.3) scale(1.19 1)" class="lh">event</text>
<text transform="translate(222.3 675.3) scale(1.24 1)" class="lh">negative</text>
<text transform="translate(278.3 675.3) scale(1.26 1)" class="lh">met.</text>
<text transform="translate(309.6 675.3) scale(1.21 1)" class="lh">event</text>
<rect x="73.3" y="682.5" width="10.9" height="10.5" fill="#f7fcfd"/>
<rect x="223.6" y="682.5" width="10.9" height="10.5" fill="#fff7f3"/>
<rect x="84.1" y="682.5" width="10.9" height="10.5" fill="#e5f5f9"/>
<rect x="234.4" y="682.5" width="10.9" height="10.5" fill="#fde0dd"/>
<rect x="94.9" y="682.5" width="10.9" height="10.5" fill="#ccece6"/>
<rect x="245.2" y="682.5" width="10.9" height="10.5" fill="#fcc5c0"/>
<rect x="105.7" y="682.5" width="10.9" height="10.5" fill="#99d8c9"/>
<rect x="256" y="682.5" width="10.9" height="10.5" fill="#fa9fb5"/>
<rect x="116.5" y="682.5" width="10.9" height="10.5" fill="#66c2a4"/>
<rect x="266.8" y="682.5" width="10.9" height="10.5" fill="#f768a1"/>
<rect x="127.3" y="682.5" width="10.9" height="10.5" fill="#41ae76"/>
<rect x="277.6" y="682.5" width="10.9" height="10.5" fill="#dd3497"/>
<rect x="138.1" y="682.5" width="10.9" height="10.5" fill="#238b45"/>
<rect x="288.4" y="682.5" width="10.9" height="10.5" fill="#ae017e"/>
<rect x="148.9" y="682.5" width="10.9" height="10.5" fill="#006d2c"/>
<rect x="299.2" y="682.5" width="10.9" height="10.5" fill="#7a0177"/>
<rect x="159.7" y="682.5" width="10.9" height="10.5" fill="#00441b"/>
<rect x="310" y="682.5" width="10.9" height="10.5" fill="#49006a"/>
<rect x="170.5" y="682.5" width="10.9" height="10.5" fill="#000000"/>
<rect x="320.8" y="682.5" width="10.9" height="10.5" fill="#000000"/>
<path d="M84.1 682.5V693" stroke="#444" stroke-width="0.4" opacity="0.55"/>
<path d="M94.9 682.5V693" stroke="#444" stroke-width="0.4" opacity="0.55"/>
<path d="M105.7 682.5V693" stroke="#444" stroke-width="0.4" opacity="0.55"/>
<path d="M116.5 682.5V693" stroke="#444" stroke-width="0.4" opacity="0.55"/>
<path d="M127.3 682.5V693" stroke="#444" stroke-width="0.4" opacity="0.55"/>
<path d="M138.1 682.5V693" stroke="#444" stroke-width="0.4" opacity="0.55"/>
<path d="M148.9 682.5V693" stroke="#444" stroke-width="0.4" opacity="0.55"/>
<path d="M159.7 682.5V693" stroke="#444" stroke-width="0.4" opacity="0.55"/>
<path d="M170.5 682.5V693" stroke="#444" stroke-width="0.4" opacity="0.55"/>
<path d="M234.4 682.5V693" stroke="#444" stroke-width="0.4" opacity="0.55"/>
<path d="M245.2 682.5V693" stroke="#444" stroke-width="0.4" opacity="0.55"/>
<path d="M256 682.5V693" stroke="#444" stroke-width="0.4" opacity="0.55"/>
<path d="M266.8 682.5V693" stroke="#444" stroke-width="0.4" opacity="0.55"/>
<path d="M277.6 682.5V693" stroke="#444" stroke-width="0.4" opacity="0.55"/>
<path d="M288.4 682.5V693" stroke="#444" stroke-width="0.4" opacity="0.55"/>
<path d="M299.2 682.5V693" stroke="#444" stroke-width="0.4" opacity="0.55"/>
<path d="M310 682.5V693" stroke="#444" stroke-width="0.4" opacity="0.55"/>
<path d="M320.8 682.5V693" stroke="#444" stroke-width="0.4" opacity="0.55"/>
<text transform="translate(79.8 705) scale(1.2 1)" text-anchor="middle" class="ln">0</text>
<text transform="translate(125.6 705) scale(1.38 1)" text-anchor="middle" class="ln">...</text>
<text transform="translate(175.2 705) scale(1.2 1)" text-anchor="middle" class="ln">1</text>
<text transform="translate(228.8 705) scale(1.2 1)" text-anchor="middle" class="ln">0</text>
<text transform="translate(274.1 705) scale(1.38 1)" text-anchor="middle" class="ln">...</text>
<text transform="translate(325.5 705) scale(1.2 1)" text-anchor="middle" class="ln">1</text>
</svg></body></html>
